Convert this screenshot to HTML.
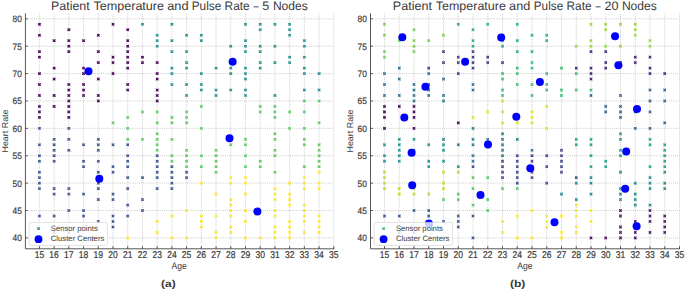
<!DOCTYPE html><html><head><meta charset="utf-8"><style>html,body{margin:0;padding:0;background:#fff;}body{width:685px;height:290px;overflow:hidden;}</style></head><body><svg width="685" height="290" viewBox="0 0 685 290" style="display:block;font-family:'Liberation Sans',sans-serif" text-rendering="geometricPrecision"><rect width="685" height="290" fill="#fff"/><path d="M39.40 13.8V248.5M54.12 13.8V248.5M68.84 13.8V248.5M83.56 13.8V248.5M98.28 13.8V248.5M113.00 13.8V248.5M127.72 13.8V248.5M142.44 13.8V248.5M157.16 13.8V248.5M171.88 13.8V248.5M186.60 13.8V248.5M201.32 13.8V248.5M216.04 13.8V248.5M230.76 13.8V248.5M245.48 13.8V248.5M260.20 13.8V248.5M274.92 13.8V248.5M289.64 13.8V248.5M304.36 13.8V248.5M319.08 13.8V248.5M333.80 13.8V248.5M25.42 237.92H333.80M25.42 210.53H333.80M25.42 183.14H333.80M25.42 155.75H333.80M25.42 128.36H333.80M25.42 100.97H333.80M25.42 73.58H333.80M25.42 46.19H333.80M25.42 18.80H333.80" stroke="#b4b4b4" stroke-width="0.7" stroke-dasharray="1 1.1" fill="none" opacity="0.95"/><g stroke-width="0.9" fill="none" stroke-linecap="square"><rect x="38.10" y="214.71" width="2.60" height="2.60" fill="#3b528b" fill-opacity="0.75" stroke="none"/><path d="M38.55 215.16l1.70 1.70m0 -1.70l-1.70 1.70" stroke="#3b528b"/><rect x="38.10" y="187.32" width="2.60" height="2.60" fill="#3b528b" fill-opacity="0.75" stroke="none"/><path d="M38.55 187.77l1.70 1.70m0 -1.70l-1.70 1.70" stroke="#3b528b"/><rect x="38.10" y="181.84" width="2.60" height="2.60" fill="#3b528b" fill-opacity="0.75" stroke="none"/><path d="M38.55 182.29l1.70 1.70m0 -1.70l-1.70 1.70" stroke="#3b528b"/><rect x="38.10" y="176.36" width="2.60" height="2.60" fill="#3b528b" fill-opacity="0.75" stroke="none"/><path d="M38.55 176.81l1.70 1.70m0 -1.70l-1.70 1.70" stroke="#3b528b"/><rect x="38.10" y="170.88" width="2.60" height="2.60" fill="#3b528b" fill-opacity="0.75" stroke="none"/><path d="M38.55 171.33l1.70 1.70m0 -1.70l-1.70 1.70" stroke="#3b528b"/><rect x="38.10" y="159.93" width="2.60" height="2.60" fill="#3b528b" fill-opacity="0.75" stroke="none"/><path d="M38.55 160.38l1.70 1.70m0 -1.70l-1.70 1.70" stroke="#3b528b"/><rect x="38.10" y="154.45" width="2.60" height="2.60" fill="#3b528b" fill-opacity="0.75" stroke="none"/><path d="M38.55 154.90l1.70 1.70m0 -1.70l-1.70 1.70" stroke="#3b528b"/><rect x="38.10" y="143.49" width="2.60" height="2.60" fill="#3b528b" fill-opacity="0.75" stroke="none"/><path d="M38.55 143.94l1.70 1.70m0 -1.70l-1.70 1.70" stroke="#3b528b"/><rect x="38.10" y="127.06" width="2.60" height="2.60" fill="#3b528b" fill-opacity="0.75" stroke="none"/><path d="M38.55 127.51l1.70 1.70m0 -1.70l-1.70 1.70" stroke="#3b528b"/><rect x="38.10" y="116.10" width="2.60" height="2.60" fill="#440154" fill-opacity="0.75" stroke="none"/><path d="M38.55 116.55l1.70 1.70m0 -1.70l-1.70 1.70" stroke="#440154"/><rect x="38.10" y="110.63" width="2.60" height="2.60" fill="#440154" fill-opacity="0.75" stroke="none"/><path d="M38.55 111.08l1.70 1.70m0 -1.70l-1.70 1.70" stroke="#440154"/><rect x="38.10" y="105.15" width="2.60" height="2.60" fill="#440154" fill-opacity="0.75" stroke="none"/><path d="M38.55 105.60l1.70 1.70m0 -1.70l-1.70 1.70" stroke="#440154"/><rect x="38.10" y="94.19" width="2.60" height="2.60" fill="#440154" fill-opacity="0.75" stroke="none"/><path d="M38.55 94.64l1.70 1.70m0 -1.70l-1.70 1.70" stroke="#440154"/><rect x="38.10" y="83.24" width="2.60" height="2.60" fill="#440154" fill-opacity="0.75" stroke="none"/><path d="M38.55 83.69l1.70 1.70m0 -1.70l-1.70 1.70" stroke="#440154"/><rect x="38.10" y="72.28" width="2.60" height="2.60" fill="#440154" fill-opacity="0.75" stroke="none"/><path d="M38.55 72.73l1.70 1.70m0 -1.70l-1.70 1.70" stroke="#440154"/><rect x="38.10" y="55.85" width="2.60" height="2.60" fill="#440154" fill-opacity="0.75" stroke="none"/><path d="M38.55 56.30l1.70 1.70m0 -1.70l-1.70 1.70" stroke="#440154"/><rect x="38.10" y="50.37" width="2.60" height="2.60" fill="#440154" fill-opacity="0.75" stroke="none"/><path d="M38.55 50.82l1.70 1.70m0 -1.70l-1.70 1.70" stroke="#440154"/><rect x="38.10" y="33.93" width="2.60" height="2.60" fill="#440154" fill-opacity="0.75" stroke="none"/><path d="M38.55 34.38l1.70 1.70m0 -1.70l-1.70 1.70" stroke="#440154"/><rect x="38.10" y="22.98" width="2.60" height="2.60" fill="#440154" fill-opacity="0.75" stroke="none"/><path d="M38.55 23.43l1.70 1.70m0 -1.70l-1.70 1.70" stroke="#440154"/><rect x="52.82" y="214.71" width="2.60" height="2.60" fill="#3b528b" fill-opacity="0.75" stroke="none"/><path d="M53.27 215.16l1.70 1.70m0 -1.70l-1.70 1.70" stroke="#3b528b"/><rect x="52.82" y="192.80" width="2.60" height="2.60" fill="#3b528b" fill-opacity="0.75" stroke="none"/><path d="M53.27 193.25l1.70 1.70m0 -1.70l-1.70 1.70" stroke="#3b528b"/><rect x="52.82" y="187.32" width="2.60" height="2.60" fill="#3b528b" fill-opacity="0.75" stroke="none"/><path d="M53.27 187.77l1.70 1.70m0 -1.70l-1.70 1.70" stroke="#3b528b"/><rect x="52.82" y="159.93" width="2.60" height="2.60" fill="#3b528b" fill-opacity="0.75" stroke="none"/><path d="M53.27 160.38l1.70 1.70m0 -1.70l-1.70 1.70" stroke="#3b528b"/><rect x="52.82" y="154.45" width="2.60" height="2.60" fill="#3b528b" fill-opacity="0.75" stroke="none"/><path d="M53.27 154.90l1.70 1.70m0 -1.70l-1.70 1.70" stroke="#3b528b"/><rect x="52.82" y="148.97" width="2.60" height="2.60" fill="#3b528b" fill-opacity="0.75" stroke="none"/><path d="M53.27 149.42l1.70 1.70m0 -1.70l-1.70 1.70" stroke="#3b528b"/><rect x="52.82" y="143.49" width="2.60" height="2.60" fill="#3b528b" fill-opacity="0.75" stroke="none"/><path d="M53.27 143.94l1.70 1.70m0 -1.70l-1.70 1.70" stroke="#3b528b"/><rect x="52.82" y="138.02" width="2.60" height="2.60" fill="#3b528b" fill-opacity="0.75" stroke="none"/><path d="M53.27 138.47l1.70 1.70m0 -1.70l-1.70 1.70" stroke="#3b528b"/><rect x="52.82" y="105.15" width="2.60" height="2.60" fill="#440154" fill-opacity="0.75" stroke="none"/><path d="M53.27 105.60l1.70 1.70m0 -1.70l-1.70 1.70" stroke="#440154"/><rect x="52.82" y="94.19" width="2.60" height="2.60" fill="#440154" fill-opacity="0.75" stroke="none"/><path d="M53.27 94.64l1.70 1.70m0 -1.70l-1.70 1.70" stroke="#440154"/><rect x="52.82" y="77.76" width="2.60" height="2.60" fill="#440154" fill-opacity="0.75" stroke="none"/><path d="M53.27 78.21l1.70 1.70m0 -1.70l-1.70 1.70" stroke="#440154"/><rect x="52.82" y="66.80" width="2.60" height="2.60" fill="#440154" fill-opacity="0.75" stroke="none"/><path d="M53.27 67.25l1.70 1.70m0 -1.70l-1.70 1.70" stroke="#440154"/><rect x="52.82" y="39.41" width="2.60" height="2.60" fill="#440154" fill-opacity="0.75" stroke="none"/><path d="M53.27 39.86l1.70 1.70m0 -1.70l-1.70 1.70" stroke="#440154"/><rect x="67.54" y="209.23" width="2.60" height="2.60" fill="#3b528b" fill-opacity="0.75" stroke="none"/><path d="M67.99 209.68l1.70 1.70m0 -1.70l-1.70 1.70" stroke="#3b528b"/><rect x="67.54" y="192.80" width="2.60" height="2.60" fill="#3b528b" fill-opacity="0.75" stroke="none"/><path d="M67.99 193.25l1.70 1.70m0 -1.70l-1.70 1.70" stroke="#3b528b"/><rect x="67.54" y="187.32" width="2.60" height="2.60" fill="#3b528b" fill-opacity="0.75" stroke="none"/><path d="M67.99 187.77l1.70 1.70m0 -1.70l-1.70 1.70" stroke="#3b528b"/><rect x="67.54" y="148.97" width="2.60" height="2.60" fill="#3b528b" fill-opacity="0.75" stroke="none"/><path d="M67.99 149.42l1.70 1.70m0 -1.70l-1.70 1.70" stroke="#3b528b"/><rect x="67.54" y="138.02" width="2.60" height="2.60" fill="#3b528b" fill-opacity="0.75" stroke="none"/><path d="M67.99 138.47l1.70 1.70m0 -1.70l-1.70 1.70" stroke="#3b528b"/><rect x="67.54" y="127.06" width="2.60" height="2.60" fill="#3b528b" fill-opacity="0.75" stroke="none"/><path d="M67.99 127.51l1.70 1.70m0 -1.70l-1.70 1.70" stroke="#3b528b"/><rect x="67.54" y="116.10" width="2.60" height="2.60" fill="#440154" fill-opacity="0.75" stroke="none"/><path d="M67.99 116.55l1.70 1.70m0 -1.70l-1.70 1.70" stroke="#440154"/><rect x="67.54" y="110.63" width="2.60" height="2.60" fill="#440154" fill-opacity="0.75" stroke="none"/><path d="M67.99 111.08l1.70 1.70m0 -1.70l-1.70 1.70" stroke="#440154"/><rect x="67.54" y="105.15" width="2.60" height="2.60" fill="#440154" fill-opacity="0.75" stroke="none"/><path d="M67.99 105.60l1.70 1.70m0 -1.70l-1.70 1.70" stroke="#440154"/><rect x="67.54" y="99.67" width="2.60" height="2.60" fill="#440154" fill-opacity="0.75" stroke="none"/><path d="M67.99 100.12l1.70 1.70m0 -1.70l-1.70 1.70" stroke="#440154"/><rect x="67.54" y="94.19" width="2.60" height="2.60" fill="#440154" fill-opacity="0.75" stroke="none"/><path d="M67.99 94.64l1.70 1.70m0 -1.70l-1.70 1.70" stroke="#440154"/><rect x="67.54" y="88.71" width="2.60" height="2.60" fill="#440154" fill-opacity="0.75" stroke="none"/><path d="M67.99 89.16l1.70 1.70m0 -1.70l-1.70 1.70" stroke="#440154"/><rect x="67.54" y="83.24" width="2.60" height="2.60" fill="#440154" fill-opacity="0.75" stroke="none"/><path d="M67.99 83.69l1.70 1.70m0 -1.70l-1.70 1.70" stroke="#440154"/><rect x="67.54" y="50.37" width="2.60" height="2.60" fill="#440154" fill-opacity="0.75" stroke="none"/><path d="M67.99 50.82l1.70 1.70m0 -1.70l-1.70 1.70" stroke="#440154"/><rect x="67.54" y="44.89" width="2.60" height="2.60" fill="#440154" fill-opacity="0.75" stroke="none"/><path d="M67.99 45.34l1.70 1.70m0 -1.70l-1.70 1.70" stroke="#440154"/><rect x="67.54" y="39.41" width="2.60" height="2.60" fill="#440154" fill-opacity="0.75" stroke="none"/><path d="M67.99 39.86l1.70 1.70m0 -1.70l-1.70 1.70" stroke="#440154"/><rect x="67.54" y="28.46" width="2.60" height="2.60" fill="#440154" fill-opacity="0.75" stroke="none"/><path d="M67.99 28.91l1.70 1.70m0 -1.70l-1.70 1.70" stroke="#440154"/><rect x="82.26" y="214.71" width="2.60" height="2.60" fill="#3b528b" fill-opacity="0.75" stroke="none"/><path d="M82.71 215.16l1.70 1.70m0 -1.70l-1.70 1.70" stroke="#3b528b"/><rect x="82.26" y="209.23" width="2.60" height="2.60" fill="#3b528b" fill-opacity="0.75" stroke="none"/><path d="M82.71 209.68l1.70 1.70m0 -1.70l-1.70 1.70" stroke="#3b528b"/><rect x="82.26" y="192.80" width="2.60" height="2.60" fill="#3b528b" fill-opacity="0.75" stroke="none"/><path d="M82.71 193.25l1.70 1.70m0 -1.70l-1.70 1.70" stroke="#3b528b"/><rect x="82.26" y="165.41" width="2.60" height="2.60" fill="#3b528b" fill-opacity="0.75" stroke="none"/><path d="M82.71 165.86l1.70 1.70m0 -1.70l-1.70 1.70" stroke="#3b528b"/><rect x="82.26" y="159.93" width="2.60" height="2.60" fill="#3b528b" fill-opacity="0.75" stroke="none"/><path d="M82.71 160.38l1.70 1.70m0 -1.70l-1.70 1.70" stroke="#3b528b"/><rect x="82.26" y="143.49" width="2.60" height="2.60" fill="#3b528b" fill-opacity="0.75" stroke="none"/><path d="M82.71 143.94l1.70 1.70m0 -1.70l-1.70 1.70" stroke="#3b528b"/><rect x="82.26" y="94.19" width="2.60" height="2.60" fill="#440154" fill-opacity="0.75" stroke="none"/><path d="M82.71 94.64l1.70 1.70m0 -1.70l-1.70 1.70" stroke="#440154"/><rect x="82.26" y="88.71" width="2.60" height="2.60" fill="#440154" fill-opacity="0.75" stroke="none"/><path d="M82.71 89.16l1.70 1.70m0 -1.70l-1.70 1.70" stroke="#440154"/><rect x="82.26" y="83.24" width="2.60" height="2.60" fill="#440154" fill-opacity="0.75" stroke="none"/><path d="M82.71 83.69l1.70 1.70m0 -1.70l-1.70 1.70" stroke="#440154"/><rect x="82.26" y="72.28" width="2.60" height="2.60" fill="#440154" fill-opacity="0.75" stroke="none"/><path d="M82.71 72.73l1.70 1.70m0 -1.70l-1.70 1.70" stroke="#440154"/><rect x="82.26" y="66.80" width="2.60" height="2.60" fill="#440154" fill-opacity="0.75" stroke="none"/><path d="M82.71 67.25l1.70 1.70m0 -1.70l-1.70 1.70" stroke="#440154"/><rect x="82.26" y="39.41" width="2.60" height="2.60" fill="#440154" fill-opacity="0.75" stroke="none"/><path d="M82.71 39.86l1.70 1.70m0 -1.70l-1.70 1.70" stroke="#440154"/><rect x="96.98" y="220.19" width="2.60" height="2.60" fill="#3b528b" fill-opacity="0.75" stroke="none"/><path d="M97.43 220.64l1.70 1.70m0 -1.70l-1.70 1.70" stroke="#3b528b"/><rect x="96.98" y="198.27" width="2.60" height="2.60" fill="#3b528b" fill-opacity="0.75" stroke="none"/><path d="M97.43 198.72l1.70 1.70m0 -1.70l-1.70 1.70" stroke="#3b528b"/><rect x="96.98" y="187.32" width="2.60" height="2.60" fill="#3b528b" fill-opacity="0.75" stroke="none"/><path d="M97.43 187.77l1.70 1.70m0 -1.70l-1.70 1.70" stroke="#3b528b"/><rect x="96.98" y="170.88" width="2.60" height="2.60" fill="#3b528b" fill-opacity="0.75" stroke="none"/><path d="M97.43 171.33l1.70 1.70m0 -1.70l-1.70 1.70" stroke="#3b528b"/><rect x="96.98" y="159.93" width="2.60" height="2.60" fill="#3b528b" fill-opacity="0.75" stroke="none"/><path d="M97.43 160.38l1.70 1.70m0 -1.70l-1.70 1.70" stroke="#3b528b"/><rect x="96.98" y="148.97" width="2.60" height="2.60" fill="#3b528b" fill-opacity="0.75" stroke="none"/><path d="M97.43 149.42l1.70 1.70m0 -1.70l-1.70 1.70" stroke="#3b528b"/><rect x="96.98" y="143.49" width="2.60" height="2.60" fill="#3b528b" fill-opacity="0.75" stroke="none"/><path d="M97.43 143.94l1.70 1.70m0 -1.70l-1.70 1.70" stroke="#3b528b"/><rect x="96.98" y="138.02" width="2.60" height="2.60" fill="#3b528b" fill-opacity="0.75" stroke="none"/><path d="M97.43 138.47l1.70 1.70m0 -1.70l-1.70 1.70" stroke="#3b528b"/><rect x="96.98" y="99.67" width="2.60" height="2.60" fill="#440154" fill-opacity="0.75" stroke="none"/><path d="M97.43 100.12l1.70 1.70m0 -1.70l-1.70 1.70" stroke="#440154"/><rect x="96.98" y="94.19" width="2.60" height="2.60" fill="#440154" fill-opacity="0.75" stroke="none"/><path d="M97.43 94.64l1.70 1.70m0 -1.70l-1.70 1.70" stroke="#440154"/><rect x="96.98" y="77.76" width="2.60" height="2.60" fill="#440154" fill-opacity="0.75" stroke="none"/><path d="M97.43 78.21l1.70 1.70m0 -1.70l-1.70 1.70" stroke="#440154"/><rect x="96.98" y="61.32" width="2.60" height="2.60" fill="#440154" fill-opacity="0.75" stroke="none"/><path d="M97.43 61.77l1.70 1.70m0 -1.70l-1.70 1.70" stroke="#440154"/><rect x="96.98" y="50.37" width="2.60" height="2.60" fill="#440154" fill-opacity="0.75" stroke="none"/><path d="M97.43 50.82l1.70 1.70m0 -1.70l-1.70 1.70" stroke="#440154"/><rect x="96.98" y="33.93" width="2.60" height="2.60" fill="#440154" fill-opacity="0.75" stroke="none"/><path d="M97.43 34.38l1.70 1.70m0 -1.70l-1.70 1.70" stroke="#440154"/><rect x="111.70" y="225.66" width="2.60" height="2.60" fill="#3b528b" fill-opacity="0.75" stroke="none"/><path d="M112.15 226.11l1.70 1.70m0 -1.70l-1.70 1.70" stroke="#3b528b"/><rect x="111.70" y="220.19" width="2.60" height="2.60" fill="#3b528b" fill-opacity="0.75" stroke="none"/><path d="M112.15 220.64l1.70 1.70m0 -1.70l-1.70 1.70" stroke="#3b528b"/><rect x="111.70" y="214.71" width="2.60" height="2.60" fill="#3b528b" fill-opacity="0.75" stroke="none"/><path d="M112.15 215.16l1.70 1.70m0 -1.70l-1.70 1.70" stroke="#3b528b"/><rect x="111.70" y="198.27" width="2.60" height="2.60" fill="#3b528b" fill-opacity="0.75" stroke="none"/><path d="M112.15 198.72l1.70 1.70m0 -1.70l-1.70 1.70" stroke="#3b528b"/><rect x="111.70" y="192.80" width="2.60" height="2.60" fill="#3b528b" fill-opacity="0.75" stroke="none"/><path d="M112.15 193.25l1.70 1.70m0 -1.70l-1.70 1.70" stroke="#3b528b"/><rect x="111.70" y="170.88" width="2.60" height="2.60" fill="#3b528b" fill-opacity="0.75" stroke="none"/><path d="M112.15 171.33l1.70 1.70m0 -1.70l-1.70 1.70" stroke="#3b528b"/><rect x="111.70" y="165.41" width="2.60" height="2.60" fill="#3b528b" fill-opacity="0.75" stroke="none"/><path d="M112.15 165.86l1.70 1.70m0 -1.70l-1.70 1.70" stroke="#3b528b"/><rect x="111.70" y="143.49" width="2.60" height="2.60" fill="#3b528b" fill-opacity="0.75" stroke="none"/><path d="M112.15 143.94l1.70 1.70m0 -1.70l-1.70 1.70" stroke="#3b528b"/><rect x="111.70" y="121.58" width="2.60" height="2.60" fill="#5ec962" fill-opacity="0.75" stroke="none"/><path d="M112.15 122.03l1.70 1.70m0 -1.70l-1.70 1.70" stroke="#5ec962"/><rect x="111.70" y="72.28" width="2.60" height="2.60" fill="#440154" fill-opacity="0.75" stroke="none"/><path d="M112.15 72.73l1.70 1.70m0 -1.70l-1.70 1.70" stroke="#440154"/><rect x="111.70" y="61.32" width="2.60" height="2.60" fill="#440154" fill-opacity="0.75" stroke="none"/><path d="M112.15 61.77l1.70 1.70m0 -1.70l-1.70 1.70" stroke="#440154"/><rect x="111.70" y="55.85" width="2.60" height="2.60" fill="#440154" fill-opacity="0.75" stroke="none"/><path d="M112.15 56.30l1.70 1.70m0 -1.70l-1.70 1.70" stroke="#440154"/><rect x="111.70" y="22.98" width="2.60" height="2.60" fill="#440154" fill-opacity="0.75" stroke="none"/><path d="M112.15 23.43l1.70 1.70m0 -1.70l-1.70 1.70" stroke="#440154"/><rect x="126.42" y="236.62" width="2.60" height="2.60" fill="#fde725" fill-opacity="0.75" stroke="none"/><path d="M126.87 237.07l1.70 1.70m0 -1.70l-1.70 1.70" stroke="#fde725"/><rect x="126.42" y="214.71" width="2.60" height="2.60" fill="#3b528b" fill-opacity="0.75" stroke="none"/><path d="M126.87 215.16l1.70 1.70m0 -1.70l-1.70 1.70" stroke="#3b528b"/><rect x="126.42" y="203.75" width="2.60" height="2.60" fill="#3b528b" fill-opacity="0.75" stroke="none"/><path d="M126.87 204.20l1.70 1.70m0 -1.70l-1.70 1.70" stroke="#3b528b"/><rect x="126.42" y="187.32" width="2.60" height="2.60" fill="#3b528b" fill-opacity="0.75" stroke="none"/><path d="M126.87 187.77l1.70 1.70m0 -1.70l-1.70 1.70" stroke="#3b528b"/><rect x="126.42" y="176.36" width="2.60" height="2.60" fill="#3b528b" fill-opacity="0.75" stroke="none"/><path d="M126.87 176.81l1.70 1.70m0 -1.70l-1.70 1.70" stroke="#3b528b"/><rect x="126.42" y="165.41" width="2.60" height="2.60" fill="#3b528b" fill-opacity="0.75" stroke="none"/><path d="M126.87 165.86l1.70 1.70m0 -1.70l-1.70 1.70" stroke="#3b528b"/><rect x="126.42" y="159.93" width="2.60" height="2.60" fill="#3b528b" fill-opacity="0.75" stroke="none"/><path d="M126.87 160.38l1.70 1.70m0 -1.70l-1.70 1.70" stroke="#3b528b"/><rect x="126.42" y="154.45" width="2.60" height="2.60" fill="#3b528b" fill-opacity="0.75" stroke="none"/><path d="M126.87 154.90l1.70 1.70m0 -1.70l-1.70 1.70" stroke="#3b528b"/><rect x="126.42" y="143.49" width="2.60" height="2.60" fill="#3b528b" fill-opacity="0.75" stroke="none"/><path d="M126.87 143.94l1.70 1.70m0 -1.70l-1.70 1.70" stroke="#3b528b"/><rect x="126.42" y="138.02" width="2.60" height="2.60" fill="#5ec962" fill-opacity="0.75" stroke="none"/><path d="M126.87 138.47l1.70 1.70m0 -1.70l-1.70 1.70" stroke="#5ec962"/><rect x="126.42" y="127.06" width="2.60" height="2.60" fill="#5ec962" fill-opacity="0.75" stroke="none"/><path d="M126.87 127.51l1.70 1.70m0 -1.70l-1.70 1.70" stroke="#5ec962"/><rect x="126.42" y="116.10" width="2.60" height="2.60" fill="#5ec962" fill-opacity="0.75" stroke="none"/><path d="M126.87 116.55l1.70 1.70m0 -1.70l-1.70 1.70" stroke="#5ec962"/><rect x="126.42" y="88.71" width="2.60" height="2.60" fill="#440154" fill-opacity="0.75" stroke="none"/><path d="M126.87 89.16l1.70 1.70m0 -1.70l-1.70 1.70" stroke="#440154"/><rect x="126.42" y="83.24" width="2.60" height="2.60" fill="#440154" fill-opacity="0.75" stroke="none"/><path d="M126.87 83.69l1.70 1.70m0 -1.70l-1.70 1.70" stroke="#440154"/><rect x="126.42" y="66.80" width="2.60" height="2.60" fill="#440154" fill-opacity="0.75" stroke="none"/><path d="M126.87 67.25l1.70 1.70m0 -1.70l-1.70 1.70" stroke="#440154"/><rect x="126.42" y="61.32" width="2.60" height="2.60" fill="#440154" fill-opacity="0.75" stroke="none"/><path d="M126.87 61.77l1.70 1.70m0 -1.70l-1.70 1.70" stroke="#440154"/><rect x="126.42" y="55.85" width="2.60" height="2.60" fill="#440154" fill-opacity="0.75" stroke="none"/><path d="M126.87 56.30l1.70 1.70m0 -1.70l-1.70 1.70" stroke="#440154"/><rect x="126.42" y="50.37" width="2.60" height="2.60" fill="#440154" fill-opacity="0.75" stroke="none"/><path d="M126.87 50.82l1.70 1.70m0 -1.70l-1.70 1.70" stroke="#440154"/><rect x="126.42" y="44.89" width="2.60" height="2.60" fill="#440154" fill-opacity="0.75" stroke="none"/><path d="M126.87 45.34l1.70 1.70m0 -1.70l-1.70 1.70" stroke="#440154"/><rect x="126.42" y="39.41" width="2.60" height="2.60" fill="#440154" fill-opacity="0.75" stroke="none"/><path d="M126.87 39.86l1.70 1.70m0 -1.70l-1.70 1.70" stroke="#440154"/><rect x="126.42" y="28.46" width="2.60" height="2.60" fill="#440154" fill-opacity="0.75" stroke="none"/><path d="M126.87 28.91l1.70 1.70m0 -1.70l-1.70 1.70" stroke="#440154"/><rect x="141.14" y="209.23" width="2.60" height="2.60" fill="#3b528b" fill-opacity="0.75" stroke="none"/><path d="M141.59 209.68l1.70 1.70m0 -1.70l-1.70 1.70" stroke="#3b528b"/><rect x="141.14" y="198.27" width="2.60" height="2.60" fill="#3b528b" fill-opacity="0.75" stroke="none"/><path d="M141.59 198.72l1.70 1.70m0 -1.70l-1.70 1.70" stroke="#3b528b"/><rect x="141.14" y="176.36" width="2.60" height="2.60" fill="#3b528b" fill-opacity="0.75" stroke="none"/><path d="M141.59 176.81l1.70 1.70m0 -1.70l-1.70 1.70" stroke="#3b528b"/><rect x="141.14" y="138.02" width="2.60" height="2.60" fill="#5ec962" fill-opacity="0.75" stroke="none"/><path d="M141.59 138.47l1.70 1.70m0 -1.70l-1.70 1.70" stroke="#5ec962"/><rect x="141.14" y="110.63" width="2.60" height="2.60" fill="#5ec962" fill-opacity="0.75" stroke="none"/><path d="M141.59 111.08l1.70 1.70m0 -1.70l-1.70 1.70" stroke="#5ec962"/><rect x="141.14" y="61.32" width="2.60" height="2.60" fill="#440154" fill-opacity="0.75" stroke="none"/><path d="M141.59 61.77l1.70 1.70m0 -1.70l-1.70 1.70" stroke="#440154"/><rect x="141.14" y="55.85" width="2.60" height="2.60" fill="#440154" fill-opacity="0.75" stroke="none"/><path d="M141.59 56.30l1.70 1.70m0 -1.70l-1.70 1.70" stroke="#440154"/><rect x="141.14" y="22.98" width="2.60" height="2.60" fill="#21918c" fill-opacity="0.75" stroke="none"/><path d="M141.59 23.43l1.70 1.70m0 -1.70l-1.70 1.70" stroke="#21918c"/><rect x="155.86" y="231.14" width="2.60" height="2.60" fill="#fde725" fill-opacity="0.75" stroke="none"/><path d="M156.31 231.59l1.70 1.70m0 -1.70l-1.70 1.70" stroke="#fde725"/><rect x="155.86" y="220.19" width="2.60" height="2.60" fill="#fde725" fill-opacity="0.75" stroke="none"/><path d="M156.31 220.64l1.70 1.70m0 -1.70l-1.70 1.70" stroke="#fde725"/><rect x="155.86" y="187.32" width="2.60" height="2.60" fill="#3b528b" fill-opacity="0.75" stroke="none"/><path d="M156.31 187.77l1.70 1.70m0 -1.70l-1.70 1.70" stroke="#3b528b"/><rect x="155.86" y="176.36" width="2.60" height="2.60" fill="#3b528b" fill-opacity="0.75" stroke="none"/><path d="M156.31 176.81l1.70 1.70m0 -1.70l-1.70 1.70" stroke="#3b528b"/><rect x="155.86" y="170.88" width="2.60" height="2.60" fill="#3b528b" fill-opacity="0.75" stroke="none"/><path d="M156.31 171.33l1.70 1.70m0 -1.70l-1.70 1.70" stroke="#3b528b"/><rect x="155.86" y="165.41" width="2.60" height="2.60" fill="#3b528b" fill-opacity="0.75" stroke="none"/><path d="M156.31 165.86l1.70 1.70m0 -1.70l-1.70 1.70" stroke="#3b528b"/><rect x="155.86" y="159.93" width="2.60" height="2.60" fill="#3b528b" fill-opacity="0.75" stroke="none"/><path d="M156.31 160.38l1.70 1.70m0 -1.70l-1.70 1.70" stroke="#3b528b"/><rect x="155.86" y="154.45" width="2.60" height="2.60" fill="#3b528b" fill-opacity="0.75" stroke="none"/><path d="M156.31 154.90l1.70 1.70m0 -1.70l-1.70 1.70" stroke="#3b528b"/><rect x="155.86" y="148.97" width="2.60" height="2.60" fill="#5ec962" fill-opacity="0.75" stroke="none"/><path d="M156.31 149.42l1.70 1.70m0 -1.70l-1.70 1.70" stroke="#5ec962"/><rect x="155.86" y="143.49" width="2.60" height="2.60" fill="#5ec962" fill-opacity="0.75" stroke="none"/><path d="M156.31 143.94l1.70 1.70m0 -1.70l-1.70 1.70" stroke="#5ec962"/><rect x="155.86" y="138.02" width="2.60" height="2.60" fill="#5ec962" fill-opacity="0.75" stroke="none"/><path d="M156.31 138.47l1.70 1.70m0 -1.70l-1.70 1.70" stroke="#5ec962"/><rect x="155.86" y="132.54" width="2.60" height="2.60" fill="#5ec962" fill-opacity="0.75" stroke="none"/><path d="M156.31 132.99l1.70 1.70m0 -1.70l-1.70 1.70" stroke="#5ec962"/><rect x="155.86" y="121.58" width="2.60" height="2.60" fill="#5ec962" fill-opacity="0.75" stroke="none"/><path d="M156.31 122.03l1.70 1.70m0 -1.70l-1.70 1.70" stroke="#5ec962"/><rect x="155.86" y="110.63" width="2.60" height="2.60" fill="#5ec962" fill-opacity="0.75" stroke="none"/><path d="M156.31 111.08l1.70 1.70m0 -1.70l-1.70 1.70" stroke="#5ec962"/><rect x="155.86" y="99.67" width="2.60" height="2.60" fill="#440154" fill-opacity="0.75" stroke="none"/><path d="M156.31 100.12l1.70 1.70m0 -1.70l-1.70 1.70" stroke="#440154"/><rect x="155.86" y="94.19" width="2.60" height="2.60" fill="#440154" fill-opacity="0.75" stroke="none"/><path d="M156.31 94.64l1.70 1.70m0 -1.70l-1.70 1.70" stroke="#440154"/><rect x="155.86" y="88.71" width="2.60" height="2.60" fill="#440154" fill-opacity="0.75" stroke="none"/><path d="M156.31 89.16l1.70 1.70m0 -1.70l-1.70 1.70" stroke="#440154"/><rect x="155.86" y="77.76" width="2.60" height="2.60" fill="#440154" fill-opacity="0.75" stroke="none"/><path d="M156.31 78.21l1.70 1.70m0 -1.70l-1.70 1.70" stroke="#440154"/><rect x="155.86" y="72.28" width="2.60" height="2.60" fill="#440154" fill-opacity="0.75" stroke="none"/><path d="M156.31 72.73l1.70 1.70m0 -1.70l-1.70 1.70" stroke="#440154"/><rect x="155.86" y="61.32" width="2.60" height="2.60" fill="#440154" fill-opacity="0.75" stroke="none"/><path d="M156.31 61.77l1.70 1.70m0 -1.70l-1.70 1.70" stroke="#440154"/><rect x="155.86" y="44.89" width="2.60" height="2.60" fill="#21918c" fill-opacity="0.75" stroke="none"/><path d="M156.31 45.34l1.70 1.70m0 -1.70l-1.70 1.70" stroke="#21918c"/><rect x="155.86" y="39.41" width="2.60" height="2.60" fill="#21918c" fill-opacity="0.75" stroke="none"/><path d="M156.31 39.86l1.70 1.70m0 -1.70l-1.70 1.70" stroke="#21918c"/><rect x="155.86" y="33.93" width="2.60" height="2.60" fill="#21918c" fill-opacity="0.75" stroke="none"/><path d="M156.31 34.38l1.70 1.70m0 -1.70l-1.70 1.70" stroke="#21918c"/><rect x="170.58" y="236.62" width="2.60" height="2.60" fill="#fde725" fill-opacity="0.75" stroke="none"/><path d="M171.03 237.07l1.70 1.70m0 -1.70l-1.70 1.70" stroke="#fde725"/><rect x="170.58" y="214.71" width="2.60" height="2.60" fill="#fde725" fill-opacity="0.75" stroke="none"/><path d="M171.03 215.16l1.70 1.70m0 -1.70l-1.70 1.70" stroke="#fde725"/><rect x="170.58" y="187.32" width="2.60" height="2.60" fill="#3b528b" fill-opacity="0.75" stroke="none"/><path d="M171.03 187.77l1.70 1.70m0 -1.70l-1.70 1.70" stroke="#3b528b"/><rect x="170.58" y="181.84" width="2.60" height="2.60" fill="#3b528b" fill-opacity="0.75" stroke="none"/><path d="M171.03 182.29l1.70 1.70m0 -1.70l-1.70 1.70" stroke="#3b528b"/><rect x="170.58" y="176.36" width="2.60" height="2.60" fill="#3b528b" fill-opacity="0.75" stroke="none"/><path d="M171.03 176.81l1.70 1.70m0 -1.70l-1.70 1.70" stroke="#3b528b"/><rect x="170.58" y="170.88" width="2.60" height="2.60" fill="#3b528b" fill-opacity="0.75" stroke="none"/><path d="M171.03 171.33l1.70 1.70m0 -1.70l-1.70 1.70" stroke="#3b528b"/><rect x="170.58" y="165.41" width="2.60" height="2.60" fill="#3b528b" fill-opacity="0.75" stroke="none"/><path d="M171.03 165.86l1.70 1.70m0 -1.70l-1.70 1.70" stroke="#3b528b"/><rect x="170.58" y="159.93" width="2.60" height="2.60" fill="#5ec962" fill-opacity="0.75" stroke="none"/><path d="M171.03 160.38l1.70 1.70m0 -1.70l-1.70 1.70" stroke="#5ec962"/><rect x="170.58" y="154.45" width="2.60" height="2.60" fill="#5ec962" fill-opacity="0.75" stroke="none"/><path d="M171.03 154.90l1.70 1.70m0 -1.70l-1.70 1.70" stroke="#5ec962"/><rect x="170.58" y="138.02" width="2.60" height="2.60" fill="#5ec962" fill-opacity="0.75" stroke="none"/><path d="M171.03 138.47l1.70 1.70m0 -1.70l-1.70 1.70" stroke="#5ec962"/><rect x="170.58" y="121.58" width="2.60" height="2.60" fill="#5ec962" fill-opacity="0.75" stroke="none"/><path d="M171.03 122.03l1.70 1.70m0 -1.70l-1.70 1.70" stroke="#5ec962"/><rect x="170.58" y="116.10" width="2.60" height="2.60" fill="#5ec962" fill-opacity="0.75" stroke="none"/><path d="M171.03 116.55l1.70 1.70m0 -1.70l-1.70 1.70" stroke="#5ec962"/><rect x="170.58" y="83.24" width="2.60" height="2.60" fill="#21918c" fill-opacity="0.75" stroke="none"/><path d="M171.03 83.69l1.70 1.70m0 -1.70l-1.70 1.70" stroke="#21918c"/><rect x="170.58" y="72.28" width="2.60" height="2.60" fill="#21918c" fill-opacity="0.75" stroke="none"/><path d="M171.03 72.73l1.70 1.70m0 -1.70l-1.70 1.70" stroke="#21918c"/><rect x="170.58" y="66.80" width="2.60" height="2.60" fill="#21918c" fill-opacity="0.75" stroke="none"/><path d="M171.03 67.25l1.70 1.70m0 -1.70l-1.70 1.70" stroke="#21918c"/><rect x="170.58" y="50.37" width="2.60" height="2.60" fill="#21918c" fill-opacity="0.75" stroke="none"/><path d="M171.03 50.82l1.70 1.70m0 -1.70l-1.70 1.70" stroke="#21918c"/><rect x="170.58" y="39.41" width="2.60" height="2.60" fill="#21918c" fill-opacity="0.75" stroke="none"/><path d="M171.03 39.86l1.70 1.70m0 -1.70l-1.70 1.70" stroke="#21918c"/><rect x="170.58" y="22.98" width="2.60" height="2.60" fill="#21918c" fill-opacity="0.75" stroke="none"/><path d="M171.03 23.43l1.70 1.70m0 -1.70l-1.70 1.70" stroke="#21918c"/><rect x="185.30" y="236.62" width="2.60" height="2.60" fill="#fde725" fill-opacity="0.75" stroke="none"/><path d="M185.75 237.07l1.70 1.70m0 -1.70l-1.70 1.70" stroke="#fde725"/><rect x="185.30" y="209.23" width="2.60" height="2.60" fill="#fde725" fill-opacity="0.75" stroke="none"/><path d="M185.75 209.68l1.70 1.70m0 -1.70l-1.70 1.70" stroke="#fde725"/><rect x="185.30" y="176.36" width="2.60" height="2.60" fill="#3b528b" fill-opacity="0.75" stroke="none"/><path d="M185.75 176.81l1.70 1.70m0 -1.70l-1.70 1.70" stroke="#3b528b"/><rect x="185.30" y="170.88" width="2.60" height="2.60" fill="#3b528b" fill-opacity="0.75" stroke="none"/><path d="M185.75 171.33l1.70 1.70m0 -1.70l-1.70 1.70" stroke="#3b528b"/><rect x="185.30" y="165.41" width="2.60" height="2.60" fill="#5ec962" fill-opacity="0.75" stroke="none"/><path d="M185.75 165.86l1.70 1.70m0 -1.70l-1.70 1.70" stroke="#5ec962"/><rect x="185.30" y="159.93" width="2.60" height="2.60" fill="#5ec962" fill-opacity="0.75" stroke="none"/><path d="M185.75 160.38l1.70 1.70m0 -1.70l-1.70 1.70" stroke="#5ec962"/><rect x="185.30" y="154.45" width="2.60" height="2.60" fill="#5ec962" fill-opacity="0.75" stroke="none"/><path d="M185.75 154.90l1.70 1.70m0 -1.70l-1.70 1.70" stroke="#5ec962"/><rect x="185.30" y="148.97" width="2.60" height="2.60" fill="#5ec962" fill-opacity="0.75" stroke="none"/><path d="M185.75 149.42l1.70 1.70m0 -1.70l-1.70 1.70" stroke="#5ec962"/><rect x="185.30" y="121.58" width="2.60" height="2.60" fill="#5ec962" fill-opacity="0.75" stroke="none"/><path d="M185.75 122.03l1.70 1.70m0 -1.70l-1.70 1.70" stroke="#5ec962"/><rect x="185.30" y="116.10" width="2.60" height="2.60" fill="#5ec962" fill-opacity="0.75" stroke="none"/><path d="M185.75 116.55l1.70 1.70m0 -1.70l-1.70 1.70" stroke="#5ec962"/><rect x="185.30" y="110.63" width="2.60" height="2.60" fill="#5ec962" fill-opacity="0.75" stroke="none"/><path d="M185.75 111.08l1.70 1.70m0 -1.70l-1.70 1.70" stroke="#5ec962"/><rect x="185.30" y="94.19" width="2.60" height="2.60" fill="#21918c" fill-opacity="0.75" stroke="none"/><path d="M185.75 94.64l1.70 1.70m0 -1.70l-1.70 1.70" stroke="#21918c"/><rect x="185.30" y="83.24" width="2.60" height="2.60" fill="#21918c" fill-opacity="0.75" stroke="none"/><path d="M185.75 83.69l1.70 1.70m0 -1.70l-1.70 1.70" stroke="#21918c"/><rect x="185.30" y="66.80" width="2.60" height="2.60" fill="#21918c" fill-opacity="0.75" stroke="none"/><path d="M185.75 67.25l1.70 1.70m0 -1.70l-1.70 1.70" stroke="#21918c"/><rect x="185.30" y="61.32" width="2.60" height="2.60" fill="#21918c" fill-opacity="0.75" stroke="none"/><path d="M185.75 61.77l1.70 1.70m0 -1.70l-1.70 1.70" stroke="#21918c"/><rect x="185.30" y="50.37" width="2.60" height="2.60" fill="#21918c" fill-opacity="0.75" stroke="none"/><path d="M185.75 50.82l1.70 1.70m0 -1.70l-1.70 1.70" stroke="#21918c"/><rect x="185.30" y="33.93" width="2.60" height="2.60" fill="#21918c" fill-opacity="0.75" stroke="none"/><path d="M185.75 34.38l1.70 1.70m0 -1.70l-1.70 1.70" stroke="#21918c"/><rect x="200.02" y="225.66" width="2.60" height="2.60" fill="#fde725" fill-opacity="0.75" stroke="none"/><path d="M200.47 226.11l1.70 1.70m0 -1.70l-1.70 1.70" stroke="#fde725"/><rect x="200.02" y="220.19" width="2.60" height="2.60" fill="#fde725" fill-opacity="0.75" stroke="none"/><path d="M200.47 220.64l1.70 1.70m0 -1.70l-1.70 1.70" stroke="#fde725"/><rect x="200.02" y="214.71" width="2.60" height="2.60" fill="#fde725" fill-opacity="0.75" stroke="none"/><path d="M200.47 215.16l1.70 1.70m0 -1.70l-1.70 1.70" stroke="#fde725"/><rect x="200.02" y="181.84" width="2.60" height="2.60" fill="#fde725" fill-opacity="0.75" stroke="none"/><path d="M200.47 182.29l1.70 1.70m0 -1.70l-1.70 1.70" stroke="#fde725"/><rect x="200.02" y="165.41" width="2.60" height="2.60" fill="#5ec962" fill-opacity="0.75" stroke="none"/><path d="M200.47 165.86l1.70 1.70m0 -1.70l-1.70 1.70" stroke="#5ec962"/><rect x="200.02" y="154.45" width="2.60" height="2.60" fill="#5ec962" fill-opacity="0.75" stroke="none"/><path d="M200.47 154.90l1.70 1.70m0 -1.70l-1.70 1.70" stroke="#5ec962"/><rect x="200.02" y="127.06" width="2.60" height="2.60" fill="#5ec962" fill-opacity="0.75" stroke="none"/><path d="M200.47 127.51l1.70 1.70m0 -1.70l-1.70 1.70" stroke="#5ec962"/><rect x="200.02" y="105.15" width="2.60" height="2.60" fill="#5ec962" fill-opacity="0.75" stroke="none"/><path d="M200.47 105.60l1.70 1.70m0 -1.70l-1.70 1.70" stroke="#5ec962"/><rect x="200.02" y="88.71" width="2.60" height="2.60" fill="#21918c" fill-opacity="0.75" stroke="none"/><path d="M200.47 89.16l1.70 1.70m0 -1.70l-1.70 1.70" stroke="#21918c"/><rect x="200.02" y="83.24" width="2.60" height="2.60" fill="#21918c" fill-opacity="0.75" stroke="none"/><path d="M200.47 83.69l1.70 1.70m0 -1.70l-1.70 1.70" stroke="#21918c"/><rect x="200.02" y="72.28" width="2.60" height="2.60" fill="#21918c" fill-opacity="0.75" stroke="none"/><path d="M200.47 72.73l1.70 1.70m0 -1.70l-1.70 1.70" stroke="#21918c"/><rect x="200.02" y="39.41" width="2.60" height="2.60" fill="#21918c" fill-opacity="0.75" stroke="none"/><path d="M200.47 39.86l1.70 1.70m0 -1.70l-1.70 1.70" stroke="#21918c"/><rect x="200.02" y="33.93" width="2.60" height="2.60" fill="#21918c" fill-opacity="0.75" stroke="none"/><path d="M200.47 34.38l1.70 1.70m0 -1.70l-1.70 1.70" stroke="#21918c"/><rect x="214.74" y="236.62" width="2.60" height="2.60" fill="#fde725" fill-opacity="0.75" stroke="none"/><path d="M215.19 237.07l1.70 1.70m0 -1.70l-1.70 1.70" stroke="#fde725"/><rect x="214.74" y="231.14" width="2.60" height="2.60" fill="#fde725" fill-opacity="0.75" stroke="none"/><path d="M215.19 231.59l1.70 1.70m0 -1.70l-1.70 1.70" stroke="#fde725"/><rect x="214.74" y="214.71" width="2.60" height="2.60" fill="#fde725" fill-opacity="0.75" stroke="none"/><path d="M215.19 215.16l1.70 1.70m0 -1.70l-1.70 1.70" stroke="#fde725"/><rect x="214.74" y="192.80" width="2.60" height="2.60" fill="#fde725" fill-opacity="0.75" stroke="none"/><path d="M215.19 193.25l1.70 1.70m0 -1.70l-1.70 1.70" stroke="#fde725"/><rect x="214.74" y="170.88" width="2.60" height="2.60" fill="#5ec962" fill-opacity="0.75" stroke="none"/><path d="M215.19 171.33l1.70 1.70m0 -1.70l-1.70 1.70" stroke="#5ec962"/><rect x="214.74" y="165.41" width="2.60" height="2.60" fill="#5ec962" fill-opacity="0.75" stroke="none"/><path d="M215.19 165.86l1.70 1.70m0 -1.70l-1.70 1.70" stroke="#5ec962"/><rect x="214.74" y="159.93" width="2.60" height="2.60" fill="#5ec962" fill-opacity="0.75" stroke="none"/><path d="M215.19 160.38l1.70 1.70m0 -1.70l-1.70 1.70" stroke="#5ec962"/><rect x="214.74" y="154.45" width="2.60" height="2.60" fill="#5ec962" fill-opacity="0.75" stroke="none"/><path d="M215.19 154.90l1.70 1.70m0 -1.70l-1.70 1.70" stroke="#5ec962"/><rect x="214.74" y="148.97" width="2.60" height="2.60" fill="#5ec962" fill-opacity="0.75" stroke="none"/><path d="M215.19 149.42l1.70 1.70m0 -1.70l-1.70 1.70" stroke="#5ec962"/><rect x="214.74" y="94.19" width="2.60" height="2.60" fill="#21918c" fill-opacity="0.75" stroke="none"/><path d="M215.19 94.64l1.70 1.70m0 -1.70l-1.70 1.70" stroke="#21918c"/><rect x="214.74" y="88.71" width="2.60" height="2.60" fill="#21918c" fill-opacity="0.75" stroke="none"/><path d="M215.19 89.16l1.70 1.70m0 -1.70l-1.70 1.70" stroke="#21918c"/><rect x="214.74" y="66.80" width="2.60" height="2.60" fill="#21918c" fill-opacity="0.75" stroke="none"/><path d="M215.19 67.25l1.70 1.70m0 -1.70l-1.70 1.70" stroke="#21918c"/><rect x="229.46" y="231.14" width="2.60" height="2.60" fill="#fde725" fill-opacity="0.75" stroke="none"/><path d="M229.91 231.59l1.70 1.70m0 -1.70l-1.70 1.70" stroke="#fde725"/><rect x="229.46" y="225.66" width="2.60" height="2.60" fill="#fde725" fill-opacity="0.75" stroke="none"/><path d="M229.91 226.11l1.70 1.70m0 -1.70l-1.70 1.70" stroke="#fde725"/><rect x="229.46" y="214.71" width="2.60" height="2.60" fill="#fde725" fill-opacity="0.75" stroke="none"/><path d="M229.91 215.16l1.70 1.70m0 -1.70l-1.70 1.70" stroke="#fde725"/><rect x="229.46" y="209.23" width="2.60" height="2.60" fill="#fde725" fill-opacity="0.75" stroke="none"/><path d="M229.91 209.68l1.70 1.70m0 -1.70l-1.70 1.70" stroke="#fde725"/><rect x="229.46" y="203.75" width="2.60" height="2.60" fill="#fde725" fill-opacity="0.75" stroke="none"/><path d="M229.91 204.20l1.70 1.70m0 -1.70l-1.70 1.70" stroke="#fde725"/><rect x="229.46" y="198.27" width="2.60" height="2.60" fill="#fde725" fill-opacity="0.75" stroke="none"/><path d="M229.91 198.72l1.70 1.70m0 -1.70l-1.70 1.70" stroke="#fde725"/><rect x="229.46" y="181.84" width="2.60" height="2.60" fill="#fde725" fill-opacity="0.75" stroke="none"/><path d="M229.91 182.29l1.70 1.70m0 -1.70l-1.70 1.70" stroke="#fde725"/><rect x="229.46" y="176.36" width="2.60" height="2.60" fill="#fde725" fill-opacity="0.75" stroke="none"/><path d="M229.91 176.81l1.70 1.70m0 -1.70l-1.70 1.70" stroke="#fde725"/><rect x="229.46" y="143.49" width="2.60" height="2.60" fill="#5ec962" fill-opacity="0.75" stroke="none"/><path d="M229.91 143.94l1.70 1.70m0 -1.70l-1.70 1.70" stroke="#5ec962"/><rect x="229.46" y="88.71" width="2.60" height="2.60" fill="#21918c" fill-opacity="0.75" stroke="none"/><path d="M229.91 89.16l1.70 1.70m0 -1.70l-1.70 1.70" stroke="#21918c"/><rect x="229.46" y="72.28" width="2.60" height="2.60" fill="#21918c" fill-opacity="0.75" stroke="none"/><path d="M229.91 72.73l1.70 1.70m0 -1.70l-1.70 1.70" stroke="#21918c"/><rect x="229.46" y="66.80" width="2.60" height="2.60" fill="#21918c" fill-opacity="0.75" stroke="none"/><path d="M229.91 67.25l1.70 1.70m0 -1.70l-1.70 1.70" stroke="#21918c"/><rect x="229.46" y="44.89" width="2.60" height="2.60" fill="#21918c" fill-opacity="0.75" stroke="none"/><path d="M229.91 45.34l1.70 1.70m0 -1.70l-1.70 1.70" stroke="#21918c"/><rect x="244.18" y="236.62" width="2.60" height="2.60" fill="#fde725" fill-opacity="0.75" stroke="none"/><path d="M244.63 237.07l1.70 1.70m0 -1.70l-1.70 1.70" stroke="#fde725"/><rect x="244.18" y="220.19" width="2.60" height="2.60" fill="#fde725" fill-opacity="0.75" stroke="none"/><path d="M244.63 220.64l1.70 1.70m0 -1.70l-1.70 1.70" stroke="#fde725"/><rect x="244.18" y="209.23" width="2.60" height="2.60" fill="#fde725" fill-opacity="0.75" stroke="none"/><path d="M244.63 209.68l1.70 1.70m0 -1.70l-1.70 1.70" stroke="#fde725"/><rect x="244.18" y="192.80" width="2.60" height="2.60" fill="#fde725" fill-opacity="0.75" stroke="none"/><path d="M244.63 193.25l1.70 1.70m0 -1.70l-1.70 1.70" stroke="#fde725"/><rect x="244.18" y="181.84" width="2.60" height="2.60" fill="#fde725" fill-opacity="0.75" stroke="none"/><path d="M244.63 182.29l1.70 1.70m0 -1.70l-1.70 1.70" stroke="#fde725"/><rect x="244.18" y="176.36" width="2.60" height="2.60" fill="#fde725" fill-opacity="0.75" stroke="none"/><path d="M244.63 176.81l1.70 1.70m0 -1.70l-1.70 1.70" stroke="#fde725"/><rect x="244.18" y="165.41" width="2.60" height="2.60" fill="#5ec962" fill-opacity="0.75" stroke="none"/><path d="M244.63 165.86l1.70 1.70m0 -1.70l-1.70 1.70" stroke="#5ec962"/><rect x="244.18" y="154.45" width="2.60" height="2.60" fill="#5ec962" fill-opacity="0.75" stroke="none"/><path d="M244.63 154.90l1.70 1.70m0 -1.70l-1.70 1.70" stroke="#5ec962"/><rect x="244.18" y="143.49" width="2.60" height="2.60" fill="#5ec962" fill-opacity="0.75" stroke="none"/><path d="M244.63 143.94l1.70 1.70m0 -1.70l-1.70 1.70" stroke="#5ec962"/><rect x="244.18" y="138.02" width="2.60" height="2.60" fill="#5ec962" fill-opacity="0.75" stroke="none"/><path d="M244.63 138.47l1.70 1.70m0 -1.70l-1.70 1.70" stroke="#5ec962"/><rect x="244.18" y="94.19" width="2.60" height="2.60" fill="#21918c" fill-opacity="0.75" stroke="none"/><path d="M244.63 94.64l1.70 1.70m0 -1.70l-1.70 1.70" stroke="#21918c"/><rect x="244.18" y="88.71" width="2.60" height="2.60" fill="#21918c" fill-opacity="0.75" stroke="none"/><path d="M244.63 89.16l1.70 1.70m0 -1.70l-1.70 1.70" stroke="#21918c"/><rect x="244.18" y="77.76" width="2.60" height="2.60" fill="#21918c" fill-opacity="0.75" stroke="none"/><path d="M244.63 78.21l1.70 1.70m0 -1.70l-1.70 1.70" stroke="#21918c"/><rect x="244.18" y="72.28" width="2.60" height="2.60" fill="#21918c" fill-opacity="0.75" stroke="none"/><path d="M244.63 72.73l1.70 1.70m0 -1.70l-1.70 1.70" stroke="#21918c"/><rect x="244.18" y="66.80" width="2.60" height="2.60" fill="#21918c" fill-opacity="0.75" stroke="none"/><path d="M244.63 67.25l1.70 1.70m0 -1.70l-1.70 1.70" stroke="#21918c"/><rect x="244.18" y="50.37" width="2.60" height="2.60" fill="#21918c" fill-opacity="0.75" stroke="none"/><path d="M244.63 50.82l1.70 1.70m0 -1.70l-1.70 1.70" stroke="#21918c"/><rect x="244.18" y="44.89" width="2.60" height="2.60" fill="#21918c" fill-opacity="0.75" stroke="none"/><path d="M244.63 45.34l1.70 1.70m0 -1.70l-1.70 1.70" stroke="#21918c"/><rect x="244.18" y="39.41" width="2.60" height="2.60" fill="#21918c" fill-opacity="0.75" stroke="none"/><path d="M244.63 39.86l1.70 1.70m0 -1.70l-1.70 1.70" stroke="#21918c"/><rect x="244.18" y="22.98" width="2.60" height="2.60" fill="#21918c" fill-opacity="0.75" stroke="none"/><path d="M244.63 23.43l1.70 1.70m0 -1.70l-1.70 1.70" stroke="#21918c"/><rect x="258.90" y="236.62" width="2.60" height="2.60" fill="#fde725" fill-opacity="0.75" stroke="none"/><path d="M259.35 237.07l1.70 1.70m0 -1.70l-1.70 1.70" stroke="#fde725"/><rect x="258.90" y="165.41" width="2.60" height="2.60" fill="#5ec962" fill-opacity="0.75" stroke="none"/><path d="M259.35 165.86l1.70 1.70m0 -1.70l-1.70 1.70" stroke="#5ec962"/><rect x="258.90" y="159.93" width="2.60" height="2.60" fill="#5ec962" fill-opacity="0.75" stroke="none"/><path d="M259.35 160.38l1.70 1.70m0 -1.70l-1.70 1.70" stroke="#5ec962"/><rect x="258.90" y="110.63" width="2.60" height="2.60" fill="#5ec962" fill-opacity="0.75" stroke="none"/><path d="M259.35 111.08l1.70 1.70m0 -1.70l-1.70 1.70" stroke="#5ec962"/><rect x="258.90" y="105.15" width="2.60" height="2.60" fill="#5ec962" fill-opacity="0.75" stroke="none"/><path d="M259.35 105.60l1.70 1.70m0 -1.70l-1.70 1.70" stroke="#5ec962"/><rect x="258.90" y="66.80" width="2.60" height="2.60" fill="#21918c" fill-opacity="0.75" stroke="none"/><path d="M259.35 67.25l1.70 1.70m0 -1.70l-1.70 1.70" stroke="#21918c"/><rect x="258.90" y="61.32" width="2.60" height="2.60" fill="#21918c" fill-opacity="0.75" stroke="none"/><path d="M259.35 61.77l1.70 1.70m0 -1.70l-1.70 1.70" stroke="#21918c"/><rect x="258.90" y="50.37" width="2.60" height="2.60" fill="#21918c" fill-opacity="0.75" stroke="none"/><path d="M259.35 50.82l1.70 1.70m0 -1.70l-1.70 1.70" stroke="#21918c"/><rect x="258.90" y="44.89" width="2.60" height="2.60" fill="#21918c" fill-opacity="0.75" stroke="none"/><path d="M259.35 45.34l1.70 1.70m0 -1.70l-1.70 1.70" stroke="#21918c"/><rect x="258.90" y="28.46" width="2.60" height="2.60" fill="#21918c" fill-opacity="0.75" stroke="none"/><path d="M259.35 28.91l1.70 1.70m0 -1.70l-1.70 1.70" stroke="#21918c"/><rect x="258.90" y="22.98" width="2.60" height="2.60" fill="#21918c" fill-opacity="0.75" stroke="none"/><path d="M259.35 23.43l1.70 1.70m0 -1.70l-1.70 1.70" stroke="#21918c"/><rect x="273.62" y="236.62" width="2.60" height="2.60" fill="#fde725" fill-opacity="0.75" stroke="none"/><path d="M274.07 237.07l1.70 1.70m0 -1.70l-1.70 1.70" stroke="#fde725"/><rect x="273.62" y="231.14" width="2.60" height="2.60" fill="#fde725" fill-opacity="0.75" stroke="none"/><path d="M274.07 231.59l1.70 1.70m0 -1.70l-1.70 1.70" stroke="#fde725"/><rect x="273.62" y="225.66" width="2.60" height="2.60" fill="#fde725" fill-opacity="0.75" stroke="none"/><path d="M274.07 226.11l1.70 1.70m0 -1.70l-1.70 1.70" stroke="#fde725"/><rect x="273.62" y="214.71" width="2.60" height="2.60" fill="#fde725" fill-opacity="0.75" stroke="none"/><path d="M274.07 215.16l1.70 1.70m0 -1.70l-1.70 1.70" stroke="#fde725"/><rect x="273.62" y="209.23" width="2.60" height="2.60" fill="#fde725" fill-opacity="0.75" stroke="none"/><path d="M274.07 209.68l1.70 1.70m0 -1.70l-1.70 1.70" stroke="#fde725"/><rect x="273.62" y="198.27" width="2.60" height="2.60" fill="#fde725" fill-opacity="0.75" stroke="none"/><path d="M274.07 198.72l1.70 1.70m0 -1.70l-1.70 1.70" stroke="#fde725"/><rect x="273.62" y="192.80" width="2.60" height="2.60" fill="#fde725" fill-opacity="0.75" stroke="none"/><path d="M274.07 193.25l1.70 1.70m0 -1.70l-1.70 1.70" stroke="#fde725"/><rect x="273.62" y="187.32" width="2.60" height="2.60" fill="#fde725" fill-opacity="0.75" stroke="none"/><path d="M274.07 187.77l1.70 1.70m0 -1.70l-1.70 1.70" stroke="#fde725"/><rect x="273.62" y="170.88" width="2.60" height="2.60" fill="#5ec962" fill-opacity="0.75" stroke="none"/><path d="M274.07 171.33l1.70 1.70m0 -1.70l-1.70 1.70" stroke="#5ec962"/><rect x="273.62" y="154.45" width="2.60" height="2.60" fill="#5ec962" fill-opacity="0.75" stroke="none"/><path d="M274.07 154.90l1.70 1.70m0 -1.70l-1.70 1.70" stroke="#5ec962"/><rect x="273.62" y="148.97" width="2.60" height="2.60" fill="#5ec962" fill-opacity="0.75" stroke="none"/><path d="M274.07 149.42l1.70 1.70m0 -1.70l-1.70 1.70" stroke="#5ec962"/><rect x="273.62" y="138.02" width="2.60" height="2.60" fill="#5ec962" fill-opacity="0.75" stroke="none"/><path d="M274.07 138.47l1.70 1.70m0 -1.70l-1.70 1.70" stroke="#5ec962"/><rect x="273.62" y="132.54" width="2.60" height="2.60" fill="#5ec962" fill-opacity="0.75" stroke="none"/><path d="M274.07 132.99l1.70 1.70m0 -1.70l-1.70 1.70" stroke="#5ec962"/><rect x="273.62" y="116.10" width="2.60" height="2.60" fill="#5ec962" fill-opacity="0.75" stroke="none"/><path d="M274.07 116.55l1.70 1.70m0 -1.70l-1.70 1.70" stroke="#5ec962"/><rect x="273.62" y="110.63" width="2.60" height="2.60" fill="#5ec962" fill-opacity="0.75" stroke="none"/><path d="M274.07 111.08l1.70 1.70m0 -1.70l-1.70 1.70" stroke="#5ec962"/><rect x="273.62" y="105.15" width="2.60" height="2.60" fill="#5ec962" fill-opacity="0.75" stroke="none"/><path d="M274.07 105.60l1.70 1.70m0 -1.70l-1.70 1.70" stroke="#5ec962"/><rect x="273.62" y="94.19" width="2.60" height="2.60" fill="#21918c" fill-opacity="0.75" stroke="none"/><path d="M274.07 94.64l1.70 1.70m0 -1.70l-1.70 1.70" stroke="#21918c"/><rect x="273.62" y="61.32" width="2.60" height="2.60" fill="#21918c" fill-opacity="0.75" stroke="none"/><path d="M274.07 61.77l1.70 1.70m0 -1.70l-1.70 1.70" stroke="#21918c"/><rect x="273.62" y="44.89" width="2.60" height="2.60" fill="#21918c" fill-opacity="0.75" stroke="none"/><path d="M274.07 45.34l1.70 1.70m0 -1.70l-1.70 1.70" stroke="#21918c"/><rect x="273.62" y="22.98" width="2.60" height="2.60" fill="#21918c" fill-opacity="0.75" stroke="none"/><path d="M274.07 23.43l1.70 1.70m0 -1.70l-1.70 1.70" stroke="#21918c"/><rect x="288.34" y="236.62" width="2.60" height="2.60" fill="#fde725" fill-opacity="0.75" stroke="none"/><path d="M288.79 237.07l1.70 1.70m0 -1.70l-1.70 1.70" stroke="#fde725"/><rect x="288.34" y="231.14" width="2.60" height="2.60" fill="#fde725" fill-opacity="0.75" stroke="none"/><path d="M288.79 231.59l1.70 1.70m0 -1.70l-1.70 1.70" stroke="#fde725"/><rect x="288.34" y="225.66" width="2.60" height="2.60" fill="#fde725" fill-opacity="0.75" stroke="none"/><path d="M288.79 226.11l1.70 1.70m0 -1.70l-1.70 1.70" stroke="#fde725"/><rect x="288.34" y="220.19" width="2.60" height="2.60" fill="#fde725" fill-opacity="0.75" stroke="none"/><path d="M288.79 220.64l1.70 1.70m0 -1.70l-1.70 1.70" stroke="#fde725"/><rect x="288.34" y="203.75" width="2.60" height="2.60" fill="#fde725" fill-opacity="0.75" stroke="none"/><path d="M288.79 204.20l1.70 1.70m0 -1.70l-1.70 1.70" stroke="#fde725"/><rect x="288.34" y="198.27" width="2.60" height="2.60" fill="#fde725" fill-opacity="0.75" stroke="none"/><path d="M288.79 198.72l1.70 1.70m0 -1.70l-1.70 1.70" stroke="#fde725"/><rect x="288.34" y="192.80" width="2.60" height="2.60" fill="#fde725" fill-opacity="0.75" stroke="none"/><path d="M288.79 193.25l1.70 1.70m0 -1.70l-1.70 1.70" stroke="#fde725"/><rect x="288.34" y="181.84" width="2.60" height="2.60" fill="#fde725" fill-opacity="0.75" stroke="none"/><path d="M288.79 182.29l1.70 1.70m0 -1.70l-1.70 1.70" stroke="#fde725"/><rect x="288.34" y="127.06" width="2.60" height="2.60" fill="#5ec962" fill-opacity="0.75" stroke="none"/><path d="M288.79 127.51l1.70 1.70m0 -1.70l-1.70 1.70" stroke="#5ec962"/><rect x="288.34" y="110.63" width="2.60" height="2.60" fill="#5ec962" fill-opacity="0.75" stroke="none"/><path d="M288.79 111.08l1.70 1.70m0 -1.70l-1.70 1.70" stroke="#5ec962"/><rect x="288.34" y="61.32" width="2.60" height="2.60" fill="#21918c" fill-opacity="0.75" stroke="none"/><path d="M288.79 61.77l1.70 1.70m0 -1.70l-1.70 1.70" stroke="#21918c"/><rect x="288.34" y="55.85" width="2.60" height="2.60" fill="#21918c" fill-opacity="0.75" stroke="none"/><path d="M288.79 56.30l1.70 1.70m0 -1.70l-1.70 1.70" stroke="#21918c"/><rect x="288.34" y="33.93" width="2.60" height="2.60" fill="#21918c" fill-opacity="0.75" stroke="none"/><path d="M288.79 34.38l1.70 1.70m0 -1.70l-1.70 1.70" stroke="#21918c"/><rect x="288.34" y="28.46" width="2.60" height="2.60" fill="#21918c" fill-opacity="0.75" stroke="none"/><path d="M288.79 28.91l1.70 1.70m0 -1.70l-1.70 1.70" stroke="#21918c"/><rect x="288.34" y="22.98" width="2.60" height="2.60" fill="#21918c" fill-opacity="0.75" stroke="none"/><path d="M288.79 23.43l1.70 1.70m0 -1.70l-1.70 1.70" stroke="#21918c"/><rect x="303.06" y="231.14" width="2.60" height="2.60" fill="#fde725" fill-opacity="0.75" stroke="none"/><path d="M303.51 231.59l1.70 1.70m0 -1.70l-1.70 1.70" stroke="#fde725"/><rect x="303.06" y="220.19" width="2.60" height="2.60" fill="#fde725" fill-opacity="0.75" stroke="none"/><path d="M303.51 220.64l1.70 1.70m0 -1.70l-1.70 1.70" stroke="#fde725"/><rect x="303.06" y="214.71" width="2.60" height="2.60" fill="#fde725" fill-opacity="0.75" stroke="none"/><path d="M303.51 215.16l1.70 1.70m0 -1.70l-1.70 1.70" stroke="#fde725"/><rect x="303.06" y="209.23" width="2.60" height="2.60" fill="#fde725" fill-opacity="0.75" stroke="none"/><path d="M303.51 209.68l1.70 1.70m0 -1.70l-1.70 1.70" stroke="#fde725"/><rect x="303.06" y="203.75" width="2.60" height="2.60" fill="#fde725" fill-opacity="0.75" stroke="none"/><path d="M303.51 204.20l1.70 1.70m0 -1.70l-1.70 1.70" stroke="#fde725"/><rect x="303.06" y="187.32" width="2.60" height="2.60" fill="#fde725" fill-opacity="0.75" stroke="none"/><path d="M303.51 187.77l1.70 1.70m0 -1.70l-1.70 1.70" stroke="#fde725"/><rect x="303.06" y="181.84" width="2.60" height="2.60" fill="#fde725" fill-opacity="0.75" stroke="none"/><path d="M303.51 182.29l1.70 1.70m0 -1.70l-1.70 1.70" stroke="#fde725"/><rect x="303.06" y="176.36" width="2.60" height="2.60" fill="#fde725" fill-opacity="0.75" stroke="none"/><path d="M303.51 176.81l1.70 1.70m0 -1.70l-1.70 1.70" stroke="#fde725"/><rect x="303.06" y="165.41" width="2.60" height="2.60" fill="#5ec962" fill-opacity="0.75" stroke="none"/><path d="M303.51 165.86l1.70 1.70m0 -1.70l-1.70 1.70" stroke="#5ec962"/><rect x="303.06" y="143.49" width="2.60" height="2.60" fill="#5ec962" fill-opacity="0.75" stroke="none"/><path d="M303.51 143.94l1.70 1.70m0 -1.70l-1.70 1.70" stroke="#5ec962"/><rect x="303.06" y="138.02" width="2.60" height="2.60" fill="#5ec962" fill-opacity="0.75" stroke="none"/><path d="M303.51 138.47l1.70 1.70m0 -1.70l-1.70 1.70" stroke="#5ec962"/><rect x="303.06" y="127.06" width="2.60" height="2.60" fill="#5ec962" fill-opacity="0.75" stroke="none"/><path d="M303.51 127.51l1.70 1.70m0 -1.70l-1.70 1.70" stroke="#5ec962"/><rect x="303.06" y="110.63" width="2.60" height="2.60" fill="#5ec962" fill-opacity="0.75" stroke="none"/><path d="M303.51 111.08l1.70 1.70m0 -1.70l-1.70 1.70" stroke="#5ec962"/><rect x="303.06" y="99.67" width="2.60" height="2.60" fill="#5ec962" fill-opacity="0.75" stroke="none"/><path d="M303.51 100.12l1.70 1.70m0 -1.70l-1.70 1.70" stroke="#5ec962"/><rect x="303.06" y="88.71" width="2.60" height="2.60" fill="#21918c" fill-opacity="0.75" stroke="none"/><path d="M303.51 89.16l1.70 1.70m0 -1.70l-1.70 1.70" stroke="#21918c"/><rect x="303.06" y="72.28" width="2.60" height="2.60" fill="#21918c" fill-opacity="0.75" stroke="none"/><path d="M303.51 72.73l1.70 1.70m0 -1.70l-1.70 1.70" stroke="#21918c"/><rect x="303.06" y="66.80" width="2.60" height="2.60" fill="#21918c" fill-opacity="0.75" stroke="none"/><path d="M303.51 67.25l1.70 1.70m0 -1.70l-1.70 1.70" stroke="#21918c"/><rect x="303.06" y="55.85" width="2.60" height="2.60" fill="#21918c" fill-opacity="0.75" stroke="none"/><path d="M303.51 56.30l1.70 1.70m0 -1.70l-1.70 1.70" stroke="#21918c"/><rect x="303.06" y="44.89" width="2.60" height="2.60" fill="#21918c" fill-opacity="0.75" stroke="none"/><path d="M303.51 45.34l1.70 1.70m0 -1.70l-1.70 1.70" stroke="#21918c"/><rect x="303.06" y="39.41" width="2.60" height="2.60" fill="#21918c" fill-opacity="0.75" stroke="none"/><path d="M303.51 39.86l1.70 1.70m0 -1.70l-1.70 1.70" stroke="#21918c"/><rect x="317.78" y="231.14" width="2.60" height="2.60" fill="#fde725" fill-opacity="0.75" stroke="none"/><path d="M318.23 231.59l1.70 1.70m0 -1.70l-1.70 1.70" stroke="#fde725"/><rect x="317.78" y="225.66" width="2.60" height="2.60" fill="#fde725" fill-opacity="0.75" stroke="none"/><path d="M318.23 226.11l1.70 1.70m0 -1.70l-1.70 1.70" stroke="#fde725"/><rect x="317.78" y="220.19" width="2.60" height="2.60" fill="#fde725" fill-opacity="0.75" stroke="none"/><path d="M318.23 220.64l1.70 1.70m0 -1.70l-1.70 1.70" stroke="#fde725"/><rect x="317.78" y="214.71" width="2.60" height="2.60" fill="#fde725" fill-opacity="0.75" stroke="none"/><path d="M318.23 215.16l1.70 1.70m0 -1.70l-1.70 1.70" stroke="#fde725"/><rect x="317.78" y="187.32" width="2.60" height="2.60" fill="#fde725" fill-opacity="0.75" stroke="none"/><path d="M318.23 187.77l1.70 1.70m0 -1.70l-1.70 1.70" stroke="#fde725"/><rect x="317.78" y="181.84" width="2.60" height="2.60" fill="#fde725" fill-opacity="0.75" stroke="none"/><path d="M318.23 182.29l1.70 1.70m0 -1.70l-1.70 1.70" stroke="#fde725"/><rect x="317.78" y="170.88" width="2.60" height="2.60" fill="#fde725" fill-opacity="0.75" stroke="none"/><path d="M318.23 171.33l1.70 1.70m0 -1.70l-1.70 1.70" stroke="#fde725"/><rect x="317.78" y="165.41" width="2.60" height="2.60" fill="#5ec962" fill-opacity="0.75" stroke="none"/><path d="M318.23 165.86l1.70 1.70m0 -1.70l-1.70 1.70" stroke="#5ec962"/><rect x="317.78" y="159.93" width="2.60" height="2.60" fill="#5ec962" fill-opacity="0.75" stroke="none"/><path d="M318.23 160.38l1.70 1.70m0 -1.70l-1.70 1.70" stroke="#5ec962"/><rect x="317.78" y="154.45" width="2.60" height="2.60" fill="#5ec962" fill-opacity="0.75" stroke="none"/><path d="M318.23 154.90l1.70 1.70m0 -1.70l-1.70 1.70" stroke="#5ec962"/><rect x="317.78" y="148.97" width="2.60" height="2.60" fill="#5ec962" fill-opacity="0.75" stroke="none"/><path d="M318.23 149.42l1.70 1.70m0 -1.70l-1.70 1.70" stroke="#5ec962"/><rect x="317.78" y="143.49" width="2.60" height="2.60" fill="#5ec962" fill-opacity="0.75" stroke="none"/><path d="M318.23 143.94l1.70 1.70m0 -1.70l-1.70 1.70" stroke="#5ec962"/><rect x="317.78" y="121.58" width="2.60" height="2.60" fill="#5ec962" fill-opacity="0.75" stroke="none"/><path d="M318.23 122.03l1.70 1.70m0 -1.70l-1.70 1.70" stroke="#5ec962"/><rect x="317.78" y="99.67" width="2.60" height="2.60" fill="#5ec962" fill-opacity="0.75" stroke="none"/><path d="M318.23 100.12l1.70 1.70m0 -1.70l-1.70 1.70" stroke="#5ec962"/><rect x="317.78" y="88.71" width="2.60" height="2.60" fill="#21918c" fill-opacity="0.75" stroke="none"/><path d="M318.23 89.16l1.70 1.70m0 -1.70l-1.70 1.70" stroke="#21918c"/><rect x="317.78" y="72.28" width="2.60" height="2.60" fill="#21918c" fill-opacity="0.75" stroke="none"/><path d="M318.23 72.73l1.70 1.70m0 -1.70l-1.70 1.70" stroke="#21918c"/><rect x="229.46" y="138.02" width="2.60" height="2.60" fill="#5ec962" fill-opacity="0.75" stroke="none"/><path d="M229.91 138.47l1.70 1.70m0 -1.70l-1.70 1.70" stroke="#5ec962"/><rect x="96.98" y="181.84" width="2.60" height="2.60" fill="#3b528b" fill-opacity="0.75" stroke="none"/><path d="M97.43 182.29l1.70 1.70m0 -1.70l-1.70 1.70" stroke="#3b528b"/><rect x="52.82" y="231.14" width="2.60" height="2.60" fill="#3b528b" fill-opacity="0.75" stroke="none"/><path d="M53.27 231.59l1.70 1.70m0 -1.70l-1.70 1.70" stroke="#3b528b"/><rect x="67.54" y="231.14" width="2.60" height="2.60" fill="#3b528b" fill-opacity="0.75" stroke="none"/><path d="M67.99 231.59l1.70 1.70m0 -1.70l-1.70 1.70" stroke="#3b528b"/></g><g fill="#0000ff"><circle cx="88.5" cy="71.2" r="4"/><circle cx="232.6" cy="61.7" r="4"/><circle cx="229.5" cy="138.2" r="4"/><circle cx="99.3" cy="178.85" r="4"/><circle cx="257.4" cy="211.5" r="4"/></g><path d="M25.42 13.8V248.8H333.80" stroke="#444" stroke-width="0.9" fill="none" stroke-linecap="square"/><path d="M39.40 248.8v-2.6M54.12 248.8v-2.6M68.84 248.8v-2.6M83.56 248.8v-2.6M98.28 248.8v-2.6M113.00 248.8v-2.6M127.72 248.8v-2.6M142.44 248.8v-2.6M157.16 248.8v-2.6M171.88 248.8v-2.6M186.60 248.8v-2.6M201.32 248.8v-2.6M216.04 248.8v-2.6M230.76 248.8v-2.6M245.48 248.8v-2.6M260.20 248.8v-2.6M274.92 248.8v-2.6M289.64 248.8v-2.6M304.36 248.8v-2.6M319.08 248.8v-2.6M333.80 248.8v-2.6M25.42 237.92h2.4M25.42 210.53h2.4M25.42 183.14h2.4M25.42 155.75h2.4M25.42 128.36h2.4M25.42 100.97h2.4M25.42 73.58h2.4M25.42 46.19h2.4M25.42 18.80h2.4" stroke="#333" stroke-width="0.8" fill="none"/><g font-size="9.3" fill="#3a3a3a" stroke="#3a3a3a" stroke-width="0.2"><text x="39.40" y="258.2" font-size="9.9" text-anchor="middle" textLength="9.5" lengthAdjust="spacingAndGlyphs">15</text><text x="54.12" y="258.2" font-size="9.9" text-anchor="middle" textLength="9.5" lengthAdjust="spacingAndGlyphs">16</text><text x="68.84" y="258.2" font-size="9.9" text-anchor="middle" textLength="9.5" lengthAdjust="spacingAndGlyphs">17</text><text x="83.56" y="258.2" font-size="9.9" text-anchor="middle" textLength="9.5" lengthAdjust="spacingAndGlyphs">18</text><text x="98.28" y="258.2" font-size="9.9" text-anchor="middle" textLength="9.5" lengthAdjust="spacingAndGlyphs">19</text><text x="113.00" y="258.2" font-size="9.9" text-anchor="middle" textLength="9.5" lengthAdjust="spacingAndGlyphs">20</text><text x="127.72" y="258.2" font-size="9.9" text-anchor="middle" textLength="9.5" lengthAdjust="spacingAndGlyphs">21</text><text x="142.44" y="258.2" font-size="9.9" text-anchor="middle" textLength="9.5" lengthAdjust="spacingAndGlyphs">22</text><text x="157.16" y="258.2" font-size="9.9" text-anchor="middle" textLength="9.5" lengthAdjust="spacingAndGlyphs">23</text><text x="171.88" y="258.2" font-size="9.9" text-anchor="middle" textLength="9.5" lengthAdjust="spacingAndGlyphs">24</text><text x="186.60" y="258.2" font-size="9.9" text-anchor="middle" textLength="9.5" lengthAdjust="spacingAndGlyphs">25</text><text x="201.32" y="258.2" font-size="9.9" text-anchor="middle" textLength="9.5" lengthAdjust="spacingAndGlyphs">26</text><text x="216.04" y="258.2" font-size="9.9" text-anchor="middle" textLength="9.5" lengthAdjust="spacingAndGlyphs">27</text><text x="230.76" y="258.2" font-size="9.9" text-anchor="middle" textLength="9.5" lengthAdjust="spacingAndGlyphs">28</text><text x="245.48" y="258.2" font-size="9.9" text-anchor="middle" textLength="9.5" lengthAdjust="spacingAndGlyphs">29</text><text x="260.20" y="258.2" font-size="9.9" text-anchor="middle" textLength="9.5" lengthAdjust="spacingAndGlyphs">30</text><text x="274.92" y="258.2" font-size="9.9" text-anchor="middle" textLength="9.5" lengthAdjust="spacingAndGlyphs">31</text><text x="289.64" y="258.2" font-size="9.9" text-anchor="middle" textLength="9.5" lengthAdjust="spacingAndGlyphs">32</text><text x="304.36" y="258.2" font-size="9.9" text-anchor="middle" textLength="9.5" lengthAdjust="spacingAndGlyphs">33</text><text x="319.08" y="258.2" font-size="9.9" text-anchor="middle" textLength="9.5" lengthAdjust="spacingAndGlyphs">34</text><text x="333.80" y="258.2" font-size="9.9" text-anchor="middle" textLength="9.5" lengthAdjust="spacingAndGlyphs">35</text><text x="21.82" y="241.32" text-anchor="end" textLength="9.3" lengthAdjust="spacingAndGlyphs">40</text><text x="21.82" y="213.93" text-anchor="end" textLength="9.3" lengthAdjust="spacingAndGlyphs">45</text><text x="21.82" y="186.54" text-anchor="end" textLength="9.3" lengthAdjust="spacingAndGlyphs">50</text><text x="21.82" y="159.15" text-anchor="end" textLength="9.3" lengthAdjust="spacingAndGlyphs">55</text><text x="21.82" y="131.76" text-anchor="end" textLength="9.3" lengthAdjust="spacingAndGlyphs">60</text><text x="21.82" y="104.37" text-anchor="end" textLength="9.3" lengthAdjust="spacingAndGlyphs">65</text><text x="21.82" y="76.98" text-anchor="end" textLength="9.3" lengthAdjust="spacingAndGlyphs">70</text><text x="21.82" y="49.59" text-anchor="end" textLength="9.3" lengthAdjust="spacingAndGlyphs">75</text><text x="21.82" y="22.20" text-anchor="end" textLength="9.3" lengthAdjust="spacingAndGlyphs">80</text></g><rect x="29.02" y="222.4" width="78.4" height="23" rx="2" fill="#fff" fill-opacity="0.8" stroke="#d5d5d5" stroke-width="0.7"/><g stroke-width="0.9" fill="none" stroke-linecap="square"><rect x="37.22" y="227.30" width="2.60" height="2.60" fill="#21918c" fill-opacity="0.75" stroke="none"/><path d="M37.67 227.75l1.70 1.70m0 -1.70l-1.70 1.70" stroke="#21918c"/></g><circle cx="38.52" cy="239.2" r="3.9" fill="#0000ff"/><g font-size="7.8" fill="#3a3a3a"><text x="50.82" y="230.8" textLength="47" lengthAdjust="spacingAndGlyphs">Sensor points</text><text x="50.82" y="241.3" textLength="53.5" lengthAdjust="spacingAndGlyphs">Cluster Centers</text></g><path d="M384.50 13.8V248.5M399.25 13.8V248.5M414.00 13.8V248.5M428.75 13.8V248.5M443.50 13.8V248.5M458.25 13.8V248.5M473.00 13.8V248.5M487.75 13.8V248.5M502.50 13.8V248.5M517.25 13.8V248.5M532.00 13.8V248.5M546.75 13.8V248.5M561.50 13.8V248.5M576.25 13.8V248.5M591.00 13.8V248.5M605.75 13.8V248.5M620.50 13.8V248.5M635.25 13.8V248.5M650.00 13.8V248.5M664.75 13.8V248.5M679.50 13.8V248.5M370.49 237.92H679.50M370.49 210.53H679.50M370.49 183.14H679.50M370.49 155.75H679.50M370.49 128.36H679.50M370.49 100.97H679.50M370.49 73.58H679.50M370.49 46.19H679.50M370.49 18.80H679.50" stroke="#b4b4b4" stroke-width="0.7" stroke-dasharray="1 1.1" fill="none" opacity="0.95"/><g stroke-width="0.9" fill="none" stroke-linecap="square"><rect x="383.20" y="214.71" width="2.60" height="2.60" fill="#39558c" fill-opacity="0.75" stroke="none"/><path d="M383.65 215.16l1.70 1.70m0 -1.70l-1.70 1.70" stroke="#39558c"/><rect x="383.20" y="187.32" width="2.60" height="2.60" fill="#bade28" fill-opacity="0.75" stroke="none"/><path d="M383.65 187.77l1.70 1.70m0 -1.70l-1.70 1.70" stroke="#bade28"/><rect x="383.20" y="181.84" width="2.60" height="2.60" fill="#bade28" fill-opacity="0.75" stroke="none"/><path d="M383.65 182.29l1.70 1.70m0 -1.70l-1.70 1.70" stroke="#bade28"/><rect x="383.20" y="176.36" width="2.60" height="2.60" fill="#bade28" fill-opacity="0.75" stroke="none"/><path d="M383.65 176.81l1.70 1.70m0 -1.70l-1.70 1.70" stroke="#bade28"/><rect x="383.20" y="170.88" width="2.60" height="2.60" fill="#bade28" fill-opacity="0.75" stroke="none"/><path d="M383.65 171.33l1.70 1.70m0 -1.70l-1.70 1.70" stroke="#bade28"/><rect x="383.20" y="159.93" width="2.60" height="2.60" fill="#1f968b" fill-opacity="0.75" stroke="none"/><path d="M383.65 160.38l1.70 1.70m0 -1.70l-1.70 1.70" stroke="#1f968b"/><rect x="383.20" y="154.45" width="2.60" height="2.60" fill="#1f968b" fill-opacity="0.75" stroke="none"/><path d="M383.65 154.90l1.70 1.70m0 -1.70l-1.70 1.70" stroke="#1f968b"/><rect x="383.20" y="143.49" width="2.60" height="2.60" fill="#1f968b" fill-opacity="0.75" stroke="none"/><path d="M383.65 143.94l1.70 1.70m0 -1.70l-1.70 1.70" stroke="#1f968b"/><rect x="383.20" y="127.06" width="2.60" height="2.60" fill="#440154" fill-opacity="0.75" stroke="none"/><path d="M383.65 127.51l1.70 1.70m0 -1.70l-1.70 1.70" stroke="#440154"/><rect x="383.20" y="116.10" width="2.60" height="2.60" fill="#440154" fill-opacity="0.75" stroke="none"/><path d="M383.65 116.55l1.70 1.70m0 -1.70l-1.70 1.70" stroke="#440154"/><rect x="383.20" y="110.63" width="2.60" height="2.60" fill="#440154" fill-opacity="0.75" stroke="none"/><path d="M383.65 111.08l1.70 1.70m0 -1.70l-1.70 1.70" stroke="#440154"/><rect x="383.20" y="105.15" width="2.60" height="2.60" fill="#440154" fill-opacity="0.75" stroke="none"/><path d="M383.65 105.60l1.70 1.70m0 -1.70l-1.70 1.70" stroke="#440154"/><rect x="383.20" y="94.19" width="2.60" height="2.60" fill="#2d718e" fill-opacity="0.75" stroke="none"/><path d="M383.65 94.64l1.70 1.70m0 -1.70l-1.70 1.70" stroke="#2d718e"/><rect x="383.20" y="83.24" width="2.60" height="2.60" fill="#2d718e" fill-opacity="0.75" stroke="none"/><path d="M383.65 83.69l1.70 1.70m0 -1.70l-1.70 1.70" stroke="#2d718e"/><rect x="383.20" y="72.28" width="2.60" height="2.60" fill="#2d718e" fill-opacity="0.75" stroke="none"/><path d="M383.65 72.73l1.70 1.70m0 -1.70l-1.70 1.70" stroke="#2d718e"/><rect x="383.20" y="55.85" width="2.60" height="2.60" fill="#75d054" fill-opacity="0.75" stroke="none"/><path d="M383.65 56.30l1.70 1.70m0 -1.70l-1.70 1.70" stroke="#75d054"/><rect x="383.20" y="50.37" width="2.60" height="2.60" fill="#75d054" fill-opacity="0.75" stroke="none"/><path d="M383.65 50.82l1.70 1.70m0 -1.70l-1.70 1.70" stroke="#75d054"/><rect x="383.20" y="33.93" width="2.60" height="2.60" fill="#75d054" fill-opacity="0.75" stroke="none"/><path d="M383.65 34.38l1.70 1.70m0 -1.70l-1.70 1.70" stroke="#75d054"/><rect x="383.20" y="22.98" width="2.60" height="2.60" fill="#75d054" fill-opacity="0.75" stroke="none"/><path d="M383.65 23.43l1.70 1.70m0 -1.70l-1.70 1.70" stroke="#75d054"/><rect x="397.95" y="214.71" width="2.60" height="2.60" fill="#39558c" fill-opacity="0.75" stroke="none"/><path d="M398.40 215.16l1.70 1.70m0 -1.70l-1.70 1.70" stroke="#39558c"/><rect x="397.95" y="192.80" width="2.60" height="2.60" fill="#bade28" fill-opacity="0.75" stroke="none"/><path d="M398.40 193.25l1.70 1.70m0 -1.70l-1.70 1.70" stroke="#bade28"/><rect x="397.95" y="187.32" width="2.60" height="2.60" fill="#bade28" fill-opacity="0.75" stroke="none"/><path d="M398.40 187.77l1.70 1.70m0 -1.70l-1.70 1.70" stroke="#bade28"/><rect x="397.95" y="159.93" width="2.60" height="2.60" fill="#1f968b" fill-opacity="0.75" stroke="none"/><path d="M398.40 160.38l1.70 1.70m0 -1.70l-1.70 1.70" stroke="#1f968b"/><rect x="397.95" y="154.45" width="2.60" height="2.60" fill="#1f968b" fill-opacity="0.75" stroke="none"/><path d="M398.40 154.90l1.70 1.70m0 -1.70l-1.70 1.70" stroke="#1f968b"/><rect x="397.95" y="148.97" width="2.60" height="2.60" fill="#1f968b" fill-opacity="0.75" stroke="none"/><path d="M398.40 149.42l1.70 1.70m0 -1.70l-1.70 1.70" stroke="#1f968b"/><rect x="397.95" y="143.49" width="2.60" height="2.60" fill="#1f968b" fill-opacity="0.75" stroke="none"/><path d="M398.40 143.94l1.70 1.70m0 -1.70l-1.70 1.70" stroke="#1f968b"/><rect x="397.95" y="138.02" width="2.60" height="2.60" fill="#1f968b" fill-opacity="0.75" stroke="none"/><path d="M398.40 138.47l1.70 1.70m0 -1.70l-1.70 1.70" stroke="#1f968b"/><rect x="397.95" y="105.15" width="2.60" height="2.60" fill="#440154" fill-opacity="0.75" stroke="none"/><path d="M398.40 105.60l1.70 1.70m0 -1.70l-1.70 1.70" stroke="#440154"/><rect x="397.95" y="94.19" width="2.60" height="2.60" fill="#2d718e" fill-opacity="0.75" stroke="none"/><path d="M398.40 94.64l1.70 1.70m0 -1.70l-1.70 1.70" stroke="#2d718e"/><rect x="397.95" y="77.76" width="2.60" height="2.60" fill="#2d718e" fill-opacity="0.75" stroke="none"/><path d="M398.40 78.21l1.70 1.70m0 -1.70l-1.70 1.70" stroke="#2d718e"/><rect x="397.95" y="66.80" width="2.60" height="2.60" fill="#2d718e" fill-opacity="0.75" stroke="none"/><path d="M398.40 67.25l1.70 1.70m0 -1.70l-1.70 1.70" stroke="#2d718e"/><rect x="397.95" y="39.41" width="2.60" height="2.60" fill="#75d054" fill-opacity="0.75" stroke="none"/><path d="M398.40 39.86l1.70 1.70m0 -1.70l-1.70 1.70" stroke="#75d054"/><rect x="412.70" y="209.23" width="2.60" height="2.60" fill="#39558c" fill-opacity="0.75" stroke="none"/><path d="M413.15 209.68l1.70 1.70m0 -1.70l-1.70 1.70" stroke="#39558c"/><rect x="412.70" y="192.80" width="2.60" height="2.60" fill="#bade28" fill-opacity="0.75" stroke="none"/><path d="M413.15 193.25l1.70 1.70m0 -1.70l-1.70 1.70" stroke="#bade28"/><rect x="412.70" y="187.32" width="2.60" height="2.60" fill="#bade28" fill-opacity="0.75" stroke="none"/><path d="M413.15 187.77l1.70 1.70m0 -1.70l-1.70 1.70" stroke="#bade28"/><rect x="412.70" y="148.97" width="2.60" height="2.60" fill="#1f968b" fill-opacity="0.75" stroke="none"/><path d="M413.15 149.42l1.70 1.70m0 -1.70l-1.70 1.70" stroke="#1f968b"/><rect x="412.70" y="138.02" width="2.60" height="2.60" fill="#1f968b" fill-opacity="0.75" stroke="none"/><path d="M413.15 138.47l1.70 1.70m0 -1.70l-1.70 1.70" stroke="#1f968b"/><rect x="412.70" y="127.06" width="2.60" height="2.60" fill="#440154" fill-opacity="0.75" stroke="none"/><path d="M413.15 127.51l1.70 1.70m0 -1.70l-1.70 1.70" stroke="#440154"/><rect x="412.70" y="116.10" width="2.60" height="2.60" fill="#440154" fill-opacity="0.75" stroke="none"/><path d="M413.15 116.55l1.70 1.70m0 -1.70l-1.70 1.70" stroke="#440154"/><rect x="412.70" y="110.63" width="2.60" height="2.60" fill="#440154" fill-opacity="0.75" stroke="none"/><path d="M413.15 111.08l1.70 1.70m0 -1.70l-1.70 1.70" stroke="#440154"/><rect x="412.70" y="105.15" width="2.60" height="2.60" fill="#440154" fill-opacity="0.75" stroke="none"/><path d="M413.15 105.60l1.70 1.70m0 -1.70l-1.70 1.70" stroke="#440154"/><rect x="412.70" y="99.67" width="2.60" height="2.60" fill="#2d718e" fill-opacity="0.75" stroke="none"/><path d="M413.15 100.12l1.70 1.70m0 -1.70l-1.70 1.70" stroke="#2d718e"/><rect x="412.70" y="94.19" width="2.60" height="2.60" fill="#2d718e" fill-opacity="0.75" stroke="none"/><path d="M413.15 94.64l1.70 1.70m0 -1.70l-1.70 1.70" stroke="#2d718e"/><rect x="412.70" y="88.71" width="2.60" height="2.60" fill="#2d718e" fill-opacity="0.75" stroke="none"/><path d="M413.15 89.16l1.70 1.70m0 -1.70l-1.70 1.70" stroke="#2d718e"/><rect x="412.70" y="83.24" width="2.60" height="2.60" fill="#2d718e" fill-opacity="0.75" stroke="none"/><path d="M413.15 83.69l1.70 1.70m0 -1.70l-1.70 1.70" stroke="#2d718e"/><rect x="412.70" y="50.37" width="2.60" height="2.60" fill="#75d054" fill-opacity="0.75" stroke="none"/><path d="M413.15 50.82l1.70 1.70m0 -1.70l-1.70 1.70" stroke="#75d054"/><rect x="412.70" y="44.89" width="2.60" height="2.60" fill="#75d054" fill-opacity="0.75" stroke="none"/><path d="M413.15 45.34l1.70 1.70m0 -1.70l-1.70 1.70" stroke="#75d054"/><rect x="412.70" y="39.41" width="2.60" height="2.60" fill="#75d054" fill-opacity="0.75" stroke="none"/><path d="M413.15 39.86l1.70 1.70m0 -1.70l-1.70 1.70" stroke="#75d054"/><rect x="412.70" y="28.46" width="2.60" height="2.60" fill="#75d054" fill-opacity="0.75" stroke="none"/><path d="M413.15 28.91l1.70 1.70m0 -1.70l-1.70 1.70" stroke="#75d054"/><rect x="427.45" y="214.71" width="2.60" height="2.60" fill="#39558c" fill-opacity="0.75" stroke="none"/><path d="M427.90 215.16l1.70 1.70m0 -1.70l-1.70 1.70" stroke="#39558c"/><rect x="427.45" y="209.23" width="2.60" height="2.60" fill="#39558c" fill-opacity="0.75" stroke="none"/><path d="M427.90 209.68l1.70 1.70m0 -1.70l-1.70 1.70" stroke="#39558c"/><rect x="427.45" y="192.80" width="2.60" height="2.60" fill="#bade28" fill-opacity="0.75" stroke="none"/><path d="M427.90 193.25l1.70 1.70m0 -1.70l-1.70 1.70" stroke="#bade28"/><rect x="427.45" y="165.41" width="2.60" height="2.60" fill="#1f968b" fill-opacity="0.75" stroke="none"/><path d="M427.90 165.86l1.70 1.70m0 -1.70l-1.70 1.70" stroke="#1f968b"/><rect x="427.45" y="159.93" width="2.60" height="2.60" fill="#1f968b" fill-opacity="0.75" stroke="none"/><path d="M427.90 160.38l1.70 1.70m0 -1.70l-1.70 1.70" stroke="#1f968b"/><rect x="427.45" y="143.49" width="2.60" height="2.60" fill="#1f968b" fill-opacity="0.75" stroke="none"/><path d="M427.90 143.94l1.70 1.70m0 -1.70l-1.70 1.70" stroke="#1f968b"/><rect x="427.45" y="94.19" width="2.60" height="2.60" fill="#2d718e" fill-opacity="0.75" stroke="none"/><path d="M427.90 94.64l1.70 1.70m0 -1.70l-1.70 1.70" stroke="#2d718e"/><rect x="427.45" y="88.71" width="2.60" height="2.60" fill="#2d718e" fill-opacity="0.75" stroke="none"/><path d="M427.90 89.16l1.70 1.70m0 -1.70l-1.70 1.70" stroke="#2d718e"/><rect x="427.45" y="83.24" width="2.60" height="2.60" fill="#2d718e" fill-opacity="0.75" stroke="none"/><path d="M427.90 83.69l1.70 1.70m0 -1.70l-1.70 1.70" stroke="#2d718e"/><rect x="427.45" y="72.28" width="2.60" height="2.60" fill="#2d718e" fill-opacity="0.75" stroke="none"/><path d="M427.90 72.73l1.70 1.70m0 -1.70l-1.70 1.70" stroke="#2d718e"/><rect x="427.45" y="66.80" width="2.60" height="2.60" fill="#453781" fill-opacity="0.75" stroke="none"/><path d="M427.90 67.25l1.70 1.70m0 -1.70l-1.70 1.70" stroke="#453781"/><rect x="427.45" y="39.41" width="2.60" height="2.60" fill="#75d054" fill-opacity="0.75" stroke="none"/><path d="M427.90 39.86l1.70 1.70m0 -1.70l-1.70 1.70" stroke="#75d054"/><rect x="442.20" y="220.19" width="2.60" height="2.60" fill="#39558c" fill-opacity="0.75" stroke="none"/><path d="M442.65 220.64l1.70 1.70m0 -1.70l-1.70 1.70" stroke="#39558c"/><rect x="442.20" y="198.27" width="2.60" height="2.60" fill="#56c667" fill-opacity="0.75" stroke="none"/><path d="M442.65 198.72l1.70 1.70m0 -1.70l-1.70 1.70" stroke="#56c667"/><rect x="442.20" y="187.32" width="2.60" height="2.60" fill="#bade28" fill-opacity="0.75" stroke="none"/><path d="M442.65 187.77l1.70 1.70m0 -1.70l-1.70 1.70" stroke="#bade28"/><rect x="442.20" y="170.88" width="2.60" height="2.60" fill="#bade28" fill-opacity="0.75" stroke="none"/><path d="M442.65 171.33l1.70 1.70m0 -1.70l-1.70 1.70" stroke="#bade28"/><rect x="442.20" y="159.93" width="2.60" height="2.60" fill="#1f968b" fill-opacity="0.75" stroke="none"/><path d="M442.65 160.38l1.70 1.70m0 -1.70l-1.70 1.70" stroke="#1f968b"/><rect x="442.20" y="148.97" width="2.60" height="2.60" fill="#1f968b" fill-opacity="0.75" stroke="none"/><path d="M442.65 149.42l1.70 1.70m0 -1.70l-1.70 1.70" stroke="#1f968b"/><rect x="442.20" y="143.49" width="2.60" height="2.60" fill="#1f968b" fill-opacity="0.75" stroke="none"/><path d="M442.65 143.94l1.70 1.70m0 -1.70l-1.70 1.70" stroke="#1f968b"/><rect x="442.20" y="138.02" width="2.60" height="2.60" fill="#287d8e" fill-opacity="0.75" stroke="none"/><path d="M442.65 138.47l1.70 1.70m0 -1.70l-1.70 1.70" stroke="#287d8e"/><rect x="442.20" y="99.67" width="2.60" height="2.60" fill="#2d718e" fill-opacity="0.75" stroke="none"/><path d="M442.65 100.12l1.70 1.70m0 -1.70l-1.70 1.70" stroke="#2d718e"/><rect x="442.20" y="94.19" width="2.60" height="2.60" fill="#2d718e" fill-opacity="0.75" stroke="none"/><path d="M442.65 94.64l1.70 1.70m0 -1.70l-1.70 1.70" stroke="#2d718e"/><rect x="442.20" y="77.76" width="2.60" height="2.60" fill="#2d718e" fill-opacity="0.75" stroke="none"/><path d="M442.65 78.21l1.70 1.70m0 -1.70l-1.70 1.70" stroke="#2d718e"/><rect x="442.20" y="61.32" width="2.60" height="2.60" fill="#453781" fill-opacity="0.75" stroke="none"/><path d="M442.65 61.77l1.70 1.70m0 -1.70l-1.70 1.70" stroke="#453781"/><rect x="442.20" y="50.37" width="2.60" height="2.60" fill="#453781" fill-opacity="0.75" stroke="none"/><path d="M442.65 50.82l1.70 1.70m0 -1.70l-1.70 1.70" stroke="#453781"/><rect x="442.20" y="33.93" width="2.60" height="2.60" fill="#75d054" fill-opacity="0.75" stroke="none"/><path d="M442.65 34.38l1.70 1.70m0 -1.70l-1.70 1.70" stroke="#75d054"/><rect x="456.95" y="225.66" width="2.60" height="2.60" fill="#39558c" fill-opacity="0.75" stroke="none"/><path d="M457.40 226.11l1.70 1.70m0 -1.70l-1.70 1.70" stroke="#39558c"/><rect x="456.95" y="220.19" width="2.60" height="2.60" fill="#39558c" fill-opacity="0.75" stroke="none"/><path d="M457.40 220.64l1.70 1.70m0 -1.70l-1.70 1.70" stroke="#39558c"/><rect x="456.95" y="214.71" width="2.60" height="2.60" fill="#39558c" fill-opacity="0.75" stroke="none"/><path d="M457.40 215.16l1.70 1.70m0 -1.70l-1.70 1.70" stroke="#39558c"/><rect x="456.95" y="198.27" width="2.60" height="2.60" fill="#56c667" fill-opacity="0.75" stroke="none"/><path d="M457.40 198.72l1.70 1.70m0 -1.70l-1.70 1.70" stroke="#56c667"/><rect x="456.95" y="192.80" width="2.60" height="2.60" fill="#56c667" fill-opacity="0.75" stroke="none"/><path d="M457.40 193.25l1.70 1.70m0 -1.70l-1.70 1.70" stroke="#56c667"/><rect x="456.95" y="170.88" width="2.60" height="2.60" fill="#bade28" fill-opacity="0.75" stroke="none"/><path d="M457.40 171.33l1.70 1.70m0 -1.70l-1.70 1.70" stroke="#bade28"/><rect x="456.95" y="165.41" width="2.60" height="2.60" fill="#1f968b" fill-opacity="0.75" stroke="none"/><path d="M457.40 165.86l1.70 1.70m0 -1.70l-1.70 1.70" stroke="#1f968b"/><rect x="456.95" y="143.49" width="2.60" height="2.60" fill="#287d8e" fill-opacity="0.75" stroke="none"/><path d="M457.40 143.94l1.70 1.70m0 -1.70l-1.70 1.70" stroke="#287d8e"/><rect x="456.95" y="121.58" width="2.60" height="2.60" fill="#440154" fill-opacity="0.75" stroke="none"/><path d="M457.40 122.03l1.70 1.70m0 -1.70l-1.70 1.70" stroke="#440154"/><rect x="456.95" y="72.28" width="2.60" height="2.60" fill="#453781" fill-opacity="0.75" stroke="none"/><path d="M457.40 72.73l1.70 1.70m0 -1.70l-1.70 1.70" stroke="#453781"/><rect x="456.95" y="61.32" width="2.60" height="2.60" fill="#453781" fill-opacity="0.75" stroke="none"/><path d="M457.40 61.77l1.70 1.70m0 -1.70l-1.70 1.70" stroke="#453781"/><rect x="456.95" y="55.85" width="2.60" height="2.60" fill="#453781" fill-opacity="0.75" stroke="none"/><path d="M457.40 56.30l1.70 1.70m0 -1.70l-1.70 1.70" stroke="#453781"/><rect x="456.95" y="22.98" width="2.60" height="2.60" fill="#29af7f" fill-opacity="0.75" stroke="none"/><path d="M457.40 23.43l1.70 1.70m0 -1.70l-1.70 1.70" stroke="#29af7f"/><rect x="471.70" y="236.62" width="2.60" height="2.60" fill="#39558c" fill-opacity="0.75" stroke="none"/><path d="M472.15 237.07l1.70 1.70m0 -1.70l-1.70 1.70" stroke="#39558c"/><rect x="471.70" y="214.71" width="2.60" height="2.60" fill="#39558c" fill-opacity="0.75" stroke="none"/><path d="M472.15 215.16l1.70 1.70m0 -1.70l-1.70 1.70" stroke="#39558c"/><rect x="471.70" y="203.75" width="2.60" height="2.60" fill="#56c667" fill-opacity="0.75" stroke="none"/><path d="M472.15 204.20l1.70 1.70m0 -1.70l-1.70 1.70" stroke="#56c667"/><rect x="471.70" y="187.32" width="2.60" height="2.60" fill="#56c667" fill-opacity="0.75" stroke="none"/><path d="M472.15 187.77l1.70 1.70m0 -1.70l-1.70 1.70" stroke="#56c667"/><rect x="471.70" y="176.36" width="2.60" height="2.60" fill="#56c667" fill-opacity="0.75" stroke="none"/><path d="M472.15 176.81l1.70 1.70m0 -1.70l-1.70 1.70" stroke="#56c667"/><rect x="471.70" y="165.41" width="2.60" height="2.60" fill="#404688" fill-opacity="0.75" stroke="none"/><path d="M472.15 165.86l1.70 1.70m0 -1.70l-1.70 1.70" stroke="#404688"/><rect x="471.70" y="159.93" width="2.60" height="2.60" fill="#287d8e" fill-opacity="0.75" stroke="none"/><path d="M472.15 160.38l1.70 1.70m0 -1.70l-1.70 1.70" stroke="#287d8e"/><rect x="471.70" y="154.45" width="2.60" height="2.60" fill="#287d8e" fill-opacity="0.75" stroke="none"/><path d="M472.15 154.90l1.70 1.70m0 -1.70l-1.70 1.70" stroke="#287d8e"/><rect x="471.70" y="143.49" width="2.60" height="2.60" fill="#287d8e" fill-opacity="0.75" stroke="none"/><path d="M472.15 143.94l1.70 1.70m0 -1.70l-1.70 1.70" stroke="#287d8e"/><rect x="471.70" y="138.02" width="2.60" height="2.60" fill="#287d8e" fill-opacity="0.75" stroke="none"/><path d="M472.15 138.47l1.70 1.70m0 -1.70l-1.70 1.70" stroke="#287d8e"/><rect x="471.70" y="127.06" width="2.60" height="2.60" fill="#287d8e" fill-opacity="0.75" stroke="none"/><path d="M472.15 127.51l1.70 1.70m0 -1.70l-1.70 1.70" stroke="#287d8e"/><rect x="471.70" y="116.10" width="2.60" height="2.60" fill="#dde318" fill-opacity="0.75" stroke="none"/><path d="M472.15 116.55l1.70 1.70m0 -1.70l-1.70 1.70" stroke="#dde318"/><rect x="471.70" y="88.71" width="2.60" height="2.60" fill="#2d718e" fill-opacity="0.75" stroke="none"/><path d="M472.15 89.16l1.70 1.70m0 -1.70l-1.70 1.70" stroke="#2d718e"/><rect x="471.70" y="83.24" width="2.60" height="2.60" fill="#2d718e" fill-opacity="0.75" stroke="none"/><path d="M472.15 83.69l1.70 1.70m0 -1.70l-1.70 1.70" stroke="#2d718e"/><rect x="471.70" y="66.80" width="2.60" height="2.60" fill="#453781" fill-opacity="0.75" stroke="none"/><path d="M472.15 67.25l1.70 1.70m0 -1.70l-1.70 1.70" stroke="#453781"/><rect x="471.70" y="61.32" width="2.60" height="2.60" fill="#453781" fill-opacity="0.75" stroke="none"/><path d="M472.15 61.77l1.70 1.70m0 -1.70l-1.70 1.70" stroke="#453781"/><rect x="471.70" y="55.85" width="2.60" height="2.60" fill="#453781" fill-opacity="0.75" stroke="none"/><path d="M472.15 56.30l1.70 1.70m0 -1.70l-1.70 1.70" stroke="#453781"/><rect x="471.70" y="50.37" width="2.60" height="2.60" fill="#453781" fill-opacity="0.75" stroke="none"/><path d="M472.15 50.82l1.70 1.70m0 -1.70l-1.70 1.70" stroke="#453781"/><rect x="471.70" y="44.89" width="2.60" height="2.60" fill="#29af7f" fill-opacity="0.75" stroke="none"/><path d="M472.15 45.34l1.70 1.70m0 -1.70l-1.70 1.70" stroke="#29af7f"/><rect x="471.70" y="39.41" width="2.60" height="2.60" fill="#29af7f" fill-opacity="0.75" stroke="none"/><path d="M472.15 39.86l1.70 1.70m0 -1.70l-1.70 1.70" stroke="#29af7f"/><rect x="471.70" y="28.46" width="2.60" height="2.60" fill="#29af7f" fill-opacity="0.75" stroke="none"/><path d="M472.15 28.91l1.70 1.70m0 -1.70l-1.70 1.70" stroke="#29af7f"/><rect x="486.45" y="209.23" width="2.60" height="2.60" fill="#56c667" fill-opacity="0.75" stroke="none"/><path d="M486.90 209.68l1.70 1.70m0 -1.70l-1.70 1.70" stroke="#56c667"/><rect x="486.45" y="198.27" width="2.60" height="2.60" fill="#56c667" fill-opacity="0.75" stroke="none"/><path d="M486.90 198.72l1.70 1.70m0 -1.70l-1.70 1.70" stroke="#56c667"/><rect x="486.45" y="176.36" width="2.60" height="2.60" fill="#56c667" fill-opacity="0.75" stroke="none"/><path d="M486.90 176.81l1.70 1.70m0 -1.70l-1.70 1.70" stroke="#56c667"/><rect x="486.45" y="138.02" width="2.60" height="2.60" fill="#287d8e" fill-opacity="0.75" stroke="none"/><path d="M486.90 138.47l1.70 1.70m0 -1.70l-1.70 1.70" stroke="#287d8e"/><rect x="486.45" y="110.63" width="2.60" height="2.60" fill="#dde318" fill-opacity="0.75" stroke="none"/><path d="M486.90 111.08l1.70 1.70m0 -1.70l-1.70 1.70" stroke="#dde318"/><rect x="486.45" y="61.32" width="2.60" height="2.60" fill="#453781" fill-opacity="0.75" stroke="none"/><path d="M486.90 61.77l1.70 1.70m0 -1.70l-1.70 1.70" stroke="#453781"/><rect x="486.45" y="55.85" width="2.60" height="2.60" fill="#453781" fill-opacity="0.75" stroke="none"/><path d="M486.90 56.30l1.70 1.70m0 -1.70l-1.70 1.70" stroke="#453781"/><rect x="486.45" y="22.98" width="2.60" height="2.60" fill="#29af7f" fill-opacity="0.75" stroke="none"/><path d="M486.90 23.43l1.70 1.70m0 -1.70l-1.70 1.70" stroke="#29af7f"/><rect x="501.20" y="231.14" width="2.60" height="2.60" fill="#fde725" fill-opacity="0.75" stroke="none"/><path d="M501.65 231.59l1.70 1.70m0 -1.70l-1.70 1.70" stroke="#fde725"/><rect x="501.20" y="220.19" width="2.60" height="2.60" fill="#fde725" fill-opacity="0.75" stroke="none"/><path d="M501.65 220.64l1.70 1.70m0 -1.70l-1.70 1.70" stroke="#fde725"/><rect x="501.20" y="187.32" width="2.60" height="2.60" fill="#56c667" fill-opacity="0.75" stroke="none"/><path d="M501.65 187.77l1.70 1.70m0 -1.70l-1.70 1.70" stroke="#56c667"/><rect x="501.20" y="176.36" width="2.60" height="2.60" fill="#404688" fill-opacity="0.75" stroke="none"/><path d="M501.65 176.81l1.70 1.70m0 -1.70l-1.70 1.70" stroke="#404688"/><rect x="501.20" y="170.88" width="2.60" height="2.60" fill="#404688" fill-opacity="0.75" stroke="none"/><path d="M501.65 171.33l1.70 1.70m0 -1.70l-1.70 1.70" stroke="#404688"/><rect x="501.20" y="165.41" width="2.60" height="2.60" fill="#404688" fill-opacity="0.75" stroke="none"/><path d="M501.65 165.86l1.70 1.70m0 -1.70l-1.70 1.70" stroke="#404688"/><rect x="501.20" y="159.93" width="2.60" height="2.60" fill="#404688" fill-opacity="0.75" stroke="none"/><path d="M501.65 160.38l1.70 1.70m0 -1.70l-1.70 1.70" stroke="#404688"/><rect x="501.20" y="154.45" width="2.60" height="2.60" fill="#287d8e" fill-opacity="0.75" stroke="none"/><path d="M501.65 154.90l1.70 1.70m0 -1.70l-1.70 1.70" stroke="#287d8e"/><rect x="501.20" y="148.97" width="2.60" height="2.60" fill="#287d8e" fill-opacity="0.75" stroke="none"/><path d="M501.65 149.42l1.70 1.70m0 -1.70l-1.70 1.70" stroke="#287d8e"/><rect x="501.20" y="143.49" width="2.60" height="2.60" fill="#287d8e" fill-opacity="0.75" stroke="none"/><path d="M501.65 143.94l1.70 1.70m0 -1.70l-1.70 1.70" stroke="#287d8e"/><rect x="501.20" y="138.02" width="2.60" height="2.60" fill="#287d8e" fill-opacity="0.75" stroke="none"/><path d="M501.65 138.47l1.70 1.70m0 -1.70l-1.70 1.70" stroke="#287d8e"/><rect x="501.20" y="132.54" width="2.60" height="2.60" fill="#287d8e" fill-opacity="0.75" stroke="none"/><path d="M501.65 132.99l1.70 1.70m0 -1.70l-1.70 1.70" stroke="#287d8e"/><rect x="501.20" y="121.58" width="2.60" height="2.60" fill="#dde318" fill-opacity="0.75" stroke="none"/><path d="M501.65 122.03l1.70 1.70m0 -1.70l-1.70 1.70" stroke="#dde318"/><rect x="501.20" y="110.63" width="2.60" height="2.60" fill="#dde318" fill-opacity="0.75" stroke="none"/><path d="M501.65 111.08l1.70 1.70m0 -1.70l-1.70 1.70" stroke="#dde318"/><rect x="501.20" y="99.67" width="2.60" height="2.60" fill="#dde318" fill-opacity="0.75" stroke="none"/><path d="M501.65 100.12l1.70 1.70m0 -1.70l-1.70 1.70" stroke="#dde318"/><rect x="501.20" y="94.19" width="2.60" height="2.60" fill="#3dbc74" fill-opacity="0.75" stroke="none"/><path d="M501.65 94.64l1.70 1.70m0 -1.70l-1.70 1.70" stroke="#3dbc74"/><rect x="501.20" y="88.71" width="2.60" height="2.60" fill="#3dbc74" fill-opacity="0.75" stroke="none"/><path d="M501.65 89.16l1.70 1.70m0 -1.70l-1.70 1.70" stroke="#3dbc74"/><rect x="501.20" y="77.76" width="2.60" height="2.60" fill="#3dbc74" fill-opacity="0.75" stroke="none"/><path d="M501.65 78.21l1.70 1.70m0 -1.70l-1.70 1.70" stroke="#3dbc74"/><rect x="501.20" y="72.28" width="2.60" height="2.60" fill="#3dbc74" fill-opacity="0.75" stroke="none"/><path d="M501.65 72.73l1.70 1.70m0 -1.70l-1.70 1.70" stroke="#3dbc74"/><rect x="501.20" y="61.32" width="2.60" height="2.60" fill="#453781" fill-opacity="0.75" stroke="none"/><path d="M501.65 61.77l1.70 1.70m0 -1.70l-1.70 1.70" stroke="#453781"/><rect x="501.20" y="44.89" width="2.60" height="2.60" fill="#29af7f" fill-opacity="0.75" stroke="none"/><path d="M501.65 45.34l1.70 1.70m0 -1.70l-1.70 1.70" stroke="#29af7f"/><rect x="501.20" y="39.41" width="2.60" height="2.60" fill="#29af7f" fill-opacity="0.75" stroke="none"/><path d="M501.65 39.86l1.70 1.70m0 -1.70l-1.70 1.70" stroke="#29af7f"/><rect x="501.20" y="33.93" width="2.60" height="2.60" fill="#29af7f" fill-opacity="0.75" stroke="none"/><path d="M501.65 34.38l1.70 1.70m0 -1.70l-1.70 1.70" stroke="#29af7f"/><rect x="515.95" y="236.62" width="2.60" height="2.60" fill="#fde725" fill-opacity="0.75" stroke="none"/><path d="M516.40 237.07l1.70 1.70m0 -1.70l-1.70 1.70" stroke="#fde725"/><rect x="515.95" y="214.71" width="2.60" height="2.60" fill="#fde725" fill-opacity="0.75" stroke="none"/><path d="M516.40 215.16l1.70 1.70m0 -1.70l-1.70 1.70" stroke="#fde725"/><rect x="515.95" y="187.32" width="2.60" height="2.60" fill="#56c667" fill-opacity="0.75" stroke="none"/><path d="M516.40 187.77l1.70 1.70m0 -1.70l-1.70 1.70" stroke="#56c667"/><rect x="515.95" y="181.84" width="2.60" height="2.60" fill="#404688" fill-opacity="0.75" stroke="none"/><path d="M516.40 182.29l1.70 1.70m0 -1.70l-1.70 1.70" stroke="#404688"/><rect x="515.95" y="176.36" width="2.60" height="2.60" fill="#404688" fill-opacity="0.75" stroke="none"/><path d="M516.40 176.81l1.70 1.70m0 -1.70l-1.70 1.70" stroke="#404688"/><rect x="515.95" y="170.88" width="2.60" height="2.60" fill="#404688" fill-opacity="0.75" stroke="none"/><path d="M516.40 171.33l1.70 1.70m0 -1.70l-1.70 1.70" stroke="#404688"/><rect x="515.95" y="165.41" width="2.60" height="2.60" fill="#404688" fill-opacity="0.75" stroke="none"/><path d="M516.40 165.86l1.70 1.70m0 -1.70l-1.70 1.70" stroke="#404688"/><rect x="515.95" y="159.93" width="2.60" height="2.60" fill="#404688" fill-opacity="0.75" stroke="none"/><path d="M516.40 160.38l1.70 1.70m0 -1.70l-1.70 1.70" stroke="#404688"/><rect x="515.95" y="154.45" width="2.60" height="2.60" fill="#404688" fill-opacity="0.75" stroke="none"/><path d="M516.40 154.90l1.70 1.70m0 -1.70l-1.70 1.70" stroke="#404688"/><rect x="515.95" y="138.02" width="2.60" height="2.60" fill="#287d8e" fill-opacity="0.75" stroke="none"/><path d="M516.40 138.47l1.70 1.70m0 -1.70l-1.70 1.70" stroke="#287d8e"/><rect x="515.95" y="121.58" width="2.60" height="2.60" fill="#dde318" fill-opacity="0.75" stroke="none"/><path d="M516.40 122.03l1.70 1.70m0 -1.70l-1.70 1.70" stroke="#dde318"/><rect x="515.95" y="116.10" width="2.60" height="2.60" fill="#dde318" fill-opacity="0.75" stroke="none"/><path d="M516.40 116.55l1.70 1.70m0 -1.70l-1.70 1.70" stroke="#dde318"/><rect x="515.95" y="83.24" width="2.60" height="2.60" fill="#3dbc74" fill-opacity="0.75" stroke="none"/><path d="M516.40 83.69l1.70 1.70m0 -1.70l-1.70 1.70" stroke="#3dbc74"/><rect x="515.95" y="72.28" width="2.60" height="2.60" fill="#3dbc74" fill-opacity="0.75" stroke="none"/><path d="M516.40 72.73l1.70 1.70m0 -1.70l-1.70 1.70" stroke="#3dbc74"/><rect x="515.95" y="66.80" width="2.60" height="2.60" fill="#3dbc74" fill-opacity="0.75" stroke="none"/><path d="M516.40 67.25l1.70 1.70m0 -1.70l-1.70 1.70" stroke="#3dbc74"/><rect x="515.95" y="50.37" width="2.60" height="2.60" fill="#29af7f" fill-opacity="0.75" stroke="none"/><path d="M516.40 50.82l1.70 1.70m0 -1.70l-1.70 1.70" stroke="#29af7f"/><rect x="515.95" y="39.41" width="2.60" height="2.60" fill="#29af7f" fill-opacity="0.75" stroke="none"/><path d="M516.40 39.86l1.70 1.70m0 -1.70l-1.70 1.70" stroke="#29af7f"/><rect x="515.95" y="22.98" width="2.60" height="2.60" fill="#29af7f" fill-opacity="0.75" stroke="none"/><path d="M516.40 23.43l1.70 1.70m0 -1.70l-1.70 1.70" stroke="#29af7f"/><rect x="530.70" y="236.62" width="2.60" height="2.60" fill="#fde725" fill-opacity="0.75" stroke="none"/><path d="M531.15 237.07l1.70 1.70m0 -1.70l-1.70 1.70" stroke="#fde725"/><rect x="530.70" y="209.23" width="2.60" height="2.60" fill="#fde725" fill-opacity="0.75" stroke="none"/><path d="M531.15 209.68l1.70 1.70m0 -1.70l-1.70 1.70" stroke="#fde725"/><rect x="530.70" y="176.36" width="2.60" height="2.60" fill="#404688" fill-opacity="0.75" stroke="none"/><path d="M531.15 176.81l1.70 1.70m0 -1.70l-1.70 1.70" stroke="#404688"/><rect x="530.70" y="170.88" width="2.60" height="2.60" fill="#404688" fill-opacity="0.75" stroke="none"/><path d="M531.15 171.33l1.70 1.70m0 -1.70l-1.70 1.70" stroke="#404688"/><rect x="530.70" y="165.41" width="2.60" height="2.60" fill="#404688" fill-opacity="0.75" stroke="none"/><path d="M531.15 165.86l1.70 1.70m0 -1.70l-1.70 1.70" stroke="#404688"/><rect x="530.70" y="159.93" width="2.60" height="2.60" fill="#404688" fill-opacity="0.75" stroke="none"/><path d="M531.15 160.38l1.70 1.70m0 -1.70l-1.70 1.70" stroke="#404688"/><rect x="530.70" y="154.45" width="2.60" height="2.60" fill="#404688" fill-opacity="0.75" stroke="none"/><path d="M531.15 154.90l1.70 1.70m0 -1.70l-1.70 1.70" stroke="#404688"/><rect x="530.70" y="148.97" width="2.60" height="2.60" fill="#287d8e" fill-opacity="0.75" stroke="none"/><path d="M531.15 149.42l1.70 1.70m0 -1.70l-1.70 1.70" stroke="#287d8e"/><rect x="530.70" y="121.58" width="2.60" height="2.60" fill="#dde318" fill-opacity="0.75" stroke="none"/><path d="M531.15 122.03l1.70 1.70m0 -1.70l-1.70 1.70" stroke="#dde318"/><rect x="530.70" y="116.10" width="2.60" height="2.60" fill="#dde318" fill-opacity="0.75" stroke="none"/><path d="M531.15 116.55l1.70 1.70m0 -1.70l-1.70 1.70" stroke="#dde318"/><rect x="530.70" y="110.63" width="2.60" height="2.60" fill="#dde318" fill-opacity="0.75" stroke="none"/><path d="M531.15 111.08l1.70 1.70m0 -1.70l-1.70 1.70" stroke="#dde318"/><rect x="530.70" y="94.19" width="2.60" height="2.60" fill="#3dbc74" fill-opacity="0.75" stroke="none"/><path d="M531.15 94.64l1.70 1.70m0 -1.70l-1.70 1.70" stroke="#3dbc74"/><rect x="530.70" y="83.24" width="2.60" height="2.60" fill="#3dbc74" fill-opacity="0.75" stroke="none"/><path d="M531.15 83.69l1.70 1.70m0 -1.70l-1.70 1.70" stroke="#3dbc74"/><rect x="530.70" y="66.80" width="2.60" height="2.60" fill="#3dbc74" fill-opacity="0.75" stroke="none"/><path d="M531.15 67.25l1.70 1.70m0 -1.70l-1.70 1.70" stroke="#3dbc74"/><rect x="530.70" y="61.32" width="2.60" height="2.60" fill="#3dbc74" fill-opacity="0.75" stroke="none"/><path d="M531.15 61.77l1.70 1.70m0 -1.70l-1.70 1.70" stroke="#3dbc74"/><rect x="530.70" y="50.37" width="2.60" height="2.60" fill="#29af7f" fill-opacity="0.75" stroke="none"/><path d="M531.15 50.82l1.70 1.70m0 -1.70l-1.70 1.70" stroke="#29af7f"/><rect x="530.70" y="33.93" width="2.60" height="2.60" fill="#29af7f" fill-opacity="0.75" stroke="none"/><path d="M531.15 34.38l1.70 1.70m0 -1.70l-1.70 1.70" stroke="#29af7f"/><rect x="545.45" y="225.66" width="2.60" height="2.60" fill="#fde725" fill-opacity="0.75" stroke="none"/><path d="M545.90 226.11l1.70 1.70m0 -1.70l-1.70 1.70" stroke="#fde725"/><rect x="545.45" y="220.19" width="2.60" height="2.60" fill="#fde725" fill-opacity="0.75" stroke="none"/><path d="M545.90 220.64l1.70 1.70m0 -1.70l-1.70 1.70" stroke="#fde725"/><rect x="545.45" y="214.71" width="2.60" height="2.60" fill="#fde725" fill-opacity="0.75" stroke="none"/><path d="M545.90 215.16l1.70 1.70m0 -1.70l-1.70 1.70" stroke="#fde725"/><rect x="545.45" y="181.84" width="2.60" height="2.60" fill="#404688" fill-opacity="0.75" stroke="none"/><path d="M545.90 182.29l1.70 1.70m0 -1.70l-1.70 1.70" stroke="#404688"/><rect x="545.45" y="165.41" width="2.60" height="2.60" fill="#404688" fill-opacity="0.75" stroke="none"/><path d="M545.90 165.86l1.70 1.70m0 -1.70l-1.70 1.70" stroke="#404688"/><rect x="545.45" y="154.45" width="2.60" height="2.60" fill="#404688" fill-opacity="0.75" stroke="none"/><path d="M545.90 154.90l1.70 1.70m0 -1.70l-1.70 1.70" stroke="#404688"/><rect x="545.45" y="127.06" width="2.60" height="2.60" fill="#dde318" fill-opacity="0.75" stroke="none"/><path d="M545.90 127.51l1.70 1.70m0 -1.70l-1.70 1.70" stroke="#dde318"/><rect x="545.45" y="105.15" width="2.60" height="2.60" fill="#dde318" fill-opacity="0.75" stroke="none"/><path d="M545.90 105.60l1.70 1.70m0 -1.70l-1.70 1.70" stroke="#dde318"/><rect x="545.45" y="88.71" width="2.60" height="2.60" fill="#3dbc74" fill-opacity="0.75" stroke="none"/><path d="M545.90 89.16l1.70 1.70m0 -1.70l-1.70 1.70" stroke="#3dbc74"/><rect x="545.45" y="83.24" width="2.60" height="2.60" fill="#3dbc74" fill-opacity="0.75" stroke="none"/><path d="M545.90 83.69l1.70 1.70m0 -1.70l-1.70 1.70" stroke="#3dbc74"/><rect x="545.45" y="72.28" width="2.60" height="2.60" fill="#3dbc74" fill-opacity="0.75" stroke="none"/><path d="M545.90 72.73l1.70 1.70m0 -1.70l-1.70 1.70" stroke="#3dbc74"/><rect x="545.45" y="39.41" width="2.60" height="2.60" fill="#29af7f" fill-opacity="0.75" stroke="none"/><path d="M545.90 39.86l1.70 1.70m0 -1.70l-1.70 1.70" stroke="#29af7f"/><rect x="545.45" y="33.93" width="2.60" height="2.60" fill="#29af7f" fill-opacity="0.75" stroke="none"/><path d="M545.90 34.38l1.70 1.70m0 -1.70l-1.70 1.70" stroke="#29af7f"/><rect x="560.20" y="236.62" width="2.60" height="2.60" fill="#fde725" fill-opacity="0.75" stroke="none"/><path d="M560.65 237.07l1.70 1.70m0 -1.70l-1.70 1.70" stroke="#fde725"/><rect x="560.20" y="231.14" width="2.60" height="2.60" fill="#fde725" fill-opacity="0.75" stroke="none"/><path d="M560.65 231.59l1.70 1.70m0 -1.70l-1.70 1.70" stroke="#fde725"/><rect x="560.20" y="214.71" width="2.60" height="2.60" fill="#fde725" fill-opacity="0.75" stroke="none"/><path d="M560.65 215.16l1.70 1.70m0 -1.70l-1.70 1.70" stroke="#fde725"/><rect x="560.20" y="192.80" width="2.60" height="2.60" fill="#238a8d" fill-opacity="0.75" stroke="none"/><path d="M560.65 193.25l1.70 1.70m0 -1.70l-1.70 1.70" stroke="#238a8d"/><rect x="560.20" y="170.88" width="2.60" height="2.60" fill="#404688" fill-opacity="0.75" stroke="none"/><path d="M560.65 171.33l1.70 1.70m0 -1.70l-1.70 1.70" stroke="#404688"/><rect x="560.20" y="165.41" width="2.60" height="2.60" fill="#404688" fill-opacity="0.75" stroke="none"/><path d="M560.65 165.86l1.70 1.70m0 -1.70l-1.70 1.70" stroke="#404688"/><rect x="560.20" y="159.93" width="2.60" height="2.60" fill="#404688" fill-opacity="0.75" stroke="none"/><path d="M560.65 160.38l1.70 1.70m0 -1.70l-1.70 1.70" stroke="#404688"/><rect x="560.20" y="154.45" width="2.60" height="2.60" fill="#404688" fill-opacity="0.75" stroke="none"/><path d="M560.65 154.90l1.70 1.70m0 -1.70l-1.70 1.70" stroke="#404688"/><rect x="560.20" y="148.97" width="2.60" height="2.60" fill="#404688" fill-opacity="0.75" stroke="none"/><path d="M560.65 149.42l1.70 1.70m0 -1.70l-1.70 1.70" stroke="#404688"/><rect x="560.20" y="94.19" width="2.60" height="2.60" fill="#3dbc74" fill-opacity="0.75" stroke="none"/><path d="M560.65 94.64l1.70 1.70m0 -1.70l-1.70 1.70" stroke="#3dbc74"/><rect x="560.20" y="88.71" width="2.60" height="2.60" fill="#3dbc74" fill-opacity="0.75" stroke="none"/><path d="M560.65 89.16l1.70 1.70m0 -1.70l-1.70 1.70" stroke="#3dbc74"/><rect x="560.20" y="66.80" width="2.60" height="2.60" fill="#3dbc74" fill-opacity="0.75" stroke="none"/><path d="M560.65 67.25l1.70 1.70m0 -1.70l-1.70 1.70" stroke="#3dbc74"/><rect x="574.95" y="231.14" width="2.60" height="2.60" fill="#fde725" fill-opacity="0.75" stroke="none"/><path d="M575.40 231.59l1.70 1.70m0 -1.70l-1.70 1.70" stroke="#fde725"/><rect x="574.95" y="225.66" width="2.60" height="2.60" fill="#fde725" fill-opacity="0.75" stroke="none"/><path d="M575.40 226.11l1.70 1.70m0 -1.70l-1.70 1.70" stroke="#fde725"/><rect x="574.95" y="214.71" width="2.60" height="2.60" fill="#fde725" fill-opacity="0.75" stroke="none"/><path d="M575.40 215.16l1.70 1.70m0 -1.70l-1.70 1.70" stroke="#fde725"/><rect x="574.95" y="209.23" width="2.60" height="2.60" fill="#fde725" fill-opacity="0.75" stroke="none"/><path d="M575.40 209.68l1.70 1.70m0 -1.70l-1.70 1.70" stroke="#fde725"/><rect x="574.95" y="203.75" width="2.60" height="2.60" fill="#fde725" fill-opacity="0.75" stroke="none"/><path d="M575.40 204.20l1.70 1.70m0 -1.70l-1.70 1.70" stroke="#fde725"/><rect x="574.95" y="198.27" width="2.60" height="2.60" fill="#238a8d" fill-opacity="0.75" stroke="none"/><path d="M575.40 198.72l1.70 1.70m0 -1.70l-1.70 1.70" stroke="#238a8d"/><rect x="574.95" y="181.84" width="2.60" height="2.60" fill="#238a8d" fill-opacity="0.75" stroke="none"/><path d="M575.40 182.29l1.70 1.70m0 -1.70l-1.70 1.70" stroke="#238a8d"/><rect x="574.95" y="176.36" width="2.60" height="2.60" fill="#404688" fill-opacity="0.75" stroke="none"/><path d="M575.40 176.81l1.70 1.70m0 -1.70l-1.70 1.70" stroke="#404688"/><rect x="574.95" y="143.49" width="2.60" height="2.60" fill="#20a386" fill-opacity="0.75" stroke="none"/><path d="M575.40 143.94l1.70 1.70m0 -1.70l-1.70 1.70" stroke="#20a386"/><rect x="574.95" y="88.71" width="2.60" height="2.60" fill="#3dbc74" fill-opacity="0.75" stroke="none"/><path d="M575.40 89.16l1.70 1.70m0 -1.70l-1.70 1.70" stroke="#3dbc74"/><rect x="574.95" y="72.28" width="2.60" height="2.60" fill="#3dbc74" fill-opacity="0.75" stroke="none"/><path d="M575.40 72.73l1.70 1.70m0 -1.70l-1.70 1.70" stroke="#3dbc74"/><rect x="574.95" y="66.80" width="2.60" height="2.60" fill="#482576" fill-opacity="0.75" stroke="none"/><path d="M575.40 67.25l1.70 1.70m0 -1.70l-1.70 1.70" stroke="#482576"/><rect x="574.95" y="44.89" width="2.60" height="2.60" fill="#95d840" fill-opacity="0.75" stroke="none"/><path d="M575.40 45.34l1.70 1.70m0 -1.70l-1.70 1.70" stroke="#95d840"/><rect x="589.70" y="236.62" width="2.60" height="2.60" fill="#481467" fill-opacity="0.75" stroke="none"/><path d="M590.15 237.07l1.70 1.70m0 -1.70l-1.70 1.70" stroke="#481467"/><rect x="589.70" y="220.19" width="2.60" height="2.60" fill="#fde725" fill-opacity="0.75" stroke="none"/><path d="M590.15 220.64l1.70 1.70m0 -1.70l-1.70 1.70" stroke="#fde725"/><rect x="589.70" y="209.23" width="2.60" height="2.60" fill="#fde725" fill-opacity="0.75" stroke="none"/><path d="M590.15 209.68l1.70 1.70m0 -1.70l-1.70 1.70" stroke="#fde725"/><rect x="589.70" y="192.80" width="2.60" height="2.60" fill="#238a8d" fill-opacity="0.75" stroke="none"/><path d="M590.15 193.25l1.70 1.70m0 -1.70l-1.70 1.70" stroke="#238a8d"/><rect x="589.70" y="181.84" width="2.60" height="2.60" fill="#238a8d" fill-opacity="0.75" stroke="none"/><path d="M590.15 182.29l1.70 1.70m0 -1.70l-1.70 1.70" stroke="#238a8d"/><rect x="589.70" y="176.36" width="2.60" height="2.60" fill="#238a8d" fill-opacity="0.75" stroke="none"/><path d="M590.15 176.81l1.70 1.70m0 -1.70l-1.70 1.70" stroke="#238a8d"/><rect x="589.70" y="165.41" width="2.60" height="2.60" fill="#20a386" fill-opacity="0.75" stroke="none"/><path d="M590.15 165.86l1.70 1.70m0 -1.70l-1.70 1.70" stroke="#20a386"/><rect x="589.70" y="154.45" width="2.60" height="2.60" fill="#20a386" fill-opacity="0.75" stroke="none"/><path d="M590.15 154.90l1.70 1.70m0 -1.70l-1.70 1.70" stroke="#20a386"/><rect x="589.70" y="143.49" width="2.60" height="2.60" fill="#20a386" fill-opacity="0.75" stroke="none"/><path d="M590.15 143.94l1.70 1.70m0 -1.70l-1.70 1.70" stroke="#20a386"/><rect x="589.70" y="138.02" width="2.60" height="2.60" fill="#20a386" fill-opacity="0.75" stroke="none"/><path d="M590.15 138.47l1.70 1.70m0 -1.70l-1.70 1.70" stroke="#20a386"/><rect x="589.70" y="94.19" width="2.60" height="2.60" fill="#33638d" fill-opacity="0.75" stroke="none"/><path d="M590.15 94.64l1.70 1.70m0 -1.70l-1.70 1.70" stroke="#33638d"/><rect x="589.70" y="88.71" width="2.60" height="2.60" fill="#3dbc74" fill-opacity="0.75" stroke="none"/><path d="M590.15 89.16l1.70 1.70m0 -1.70l-1.70 1.70" stroke="#3dbc74"/><rect x="589.70" y="77.76" width="2.60" height="2.60" fill="#482576" fill-opacity="0.75" stroke="none"/><path d="M590.15 78.21l1.70 1.70m0 -1.70l-1.70 1.70" stroke="#482576"/><rect x="589.70" y="72.28" width="2.60" height="2.60" fill="#482576" fill-opacity="0.75" stroke="none"/><path d="M590.15 72.73l1.70 1.70m0 -1.70l-1.70 1.70" stroke="#482576"/><rect x="589.70" y="66.80" width="2.60" height="2.60" fill="#482576" fill-opacity="0.75" stroke="none"/><path d="M590.15 67.25l1.70 1.70m0 -1.70l-1.70 1.70" stroke="#482576"/><rect x="589.70" y="50.37" width="2.60" height="2.60" fill="#482576" fill-opacity="0.75" stroke="none"/><path d="M590.15 50.82l1.70 1.70m0 -1.70l-1.70 1.70" stroke="#482576"/><rect x="589.70" y="44.89" width="2.60" height="2.60" fill="#95d840" fill-opacity="0.75" stroke="none"/><path d="M590.15 45.34l1.70 1.70m0 -1.70l-1.70 1.70" stroke="#95d840"/><rect x="589.70" y="39.41" width="2.60" height="2.60" fill="#95d840" fill-opacity="0.75" stroke="none"/><path d="M590.15 39.86l1.70 1.70m0 -1.70l-1.70 1.70" stroke="#95d840"/><rect x="589.70" y="22.98" width="2.60" height="2.60" fill="#95d840" fill-opacity="0.75" stroke="none"/><path d="M590.15 23.43l1.70 1.70m0 -1.70l-1.70 1.70" stroke="#95d840"/><rect x="604.45" y="236.62" width="2.60" height="2.60" fill="#481467" fill-opacity="0.75" stroke="none"/><path d="M604.90 237.07l1.70 1.70m0 -1.70l-1.70 1.70" stroke="#481467"/><rect x="604.45" y="165.41" width="2.60" height="2.60" fill="#20a386" fill-opacity="0.75" stroke="none"/><path d="M604.90 165.86l1.70 1.70m0 -1.70l-1.70 1.70" stroke="#20a386"/><rect x="604.45" y="159.93" width="2.60" height="2.60" fill="#20a386" fill-opacity="0.75" stroke="none"/><path d="M604.90 160.38l1.70 1.70m0 -1.70l-1.70 1.70" stroke="#20a386"/><rect x="604.45" y="110.63" width="2.60" height="2.60" fill="#33638d" fill-opacity="0.75" stroke="none"/><path d="M604.90 111.08l1.70 1.70m0 -1.70l-1.70 1.70" stroke="#33638d"/><rect x="604.45" y="105.15" width="2.60" height="2.60" fill="#33638d" fill-opacity="0.75" stroke="none"/><path d="M604.90 105.60l1.70 1.70m0 -1.70l-1.70 1.70" stroke="#33638d"/><rect x="604.45" y="66.80" width="2.60" height="2.60" fill="#482576" fill-opacity="0.75" stroke="none"/><path d="M604.90 67.25l1.70 1.70m0 -1.70l-1.70 1.70" stroke="#482576"/><rect x="604.45" y="61.32" width="2.60" height="2.60" fill="#482576" fill-opacity="0.75" stroke="none"/><path d="M604.90 61.77l1.70 1.70m0 -1.70l-1.70 1.70" stroke="#482576"/><rect x="604.45" y="50.37" width="2.60" height="2.60" fill="#482576" fill-opacity="0.75" stroke="none"/><path d="M604.90 50.82l1.70 1.70m0 -1.70l-1.70 1.70" stroke="#482576"/><rect x="604.45" y="44.89" width="2.60" height="2.60" fill="#95d840" fill-opacity="0.75" stroke="none"/><path d="M604.90 45.34l1.70 1.70m0 -1.70l-1.70 1.70" stroke="#95d840"/><rect x="604.45" y="28.46" width="2.60" height="2.60" fill="#95d840" fill-opacity="0.75" stroke="none"/><path d="M604.90 28.91l1.70 1.70m0 -1.70l-1.70 1.70" stroke="#95d840"/><rect x="604.45" y="22.98" width="2.60" height="2.60" fill="#95d840" fill-opacity="0.75" stroke="none"/><path d="M604.90 23.43l1.70 1.70m0 -1.70l-1.70 1.70" stroke="#95d840"/><rect x="619.20" y="236.62" width="2.60" height="2.60" fill="#481467" fill-opacity="0.75" stroke="none"/><path d="M619.65 237.07l1.70 1.70m0 -1.70l-1.70 1.70" stroke="#481467"/><rect x="619.20" y="231.14" width="2.60" height="2.60" fill="#481467" fill-opacity="0.75" stroke="none"/><path d="M619.65 231.59l1.70 1.70m0 -1.70l-1.70 1.70" stroke="#481467"/><rect x="619.20" y="225.66" width="2.60" height="2.60" fill="#481467" fill-opacity="0.75" stroke="none"/><path d="M619.65 226.11l1.70 1.70m0 -1.70l-1.70 1.70" stroke="#481467"/><rect x="619.20" y="214.71" width="2.60" height="2.60" fill="#481467" fill-opacity="0.75" stroke="none"/><path d="M619.65 215.16l1.70 1.70m0 -1.70l-1.70 1.70" stroke="#481467"/><rect x="619.20" y="209.23" width="2.60" height="2.60" fill="#481467" fill-opacity="0.75" stroke="none"/><path d="M619.65 209.68l1.70 1.70m0 -1.70l-1.70 1.70" stroke="#481467"/><rect x="619.20" y="198.27" width="2.60" height="2.60" fill="#238a8d" fill-opacity="0.75" stroke="none"/><path d="M619.65 198.72l1.70 1.70m0 -1.70l-1.70 1.70" stroke="#238a8d"/><rect x="619.20" y="192.80" width="2.60" height="2.60" fill="#238a8d" fill-opacity="0.75" stroke="none"/><path d="M619.65 193.25l1.70 1.70m0 -1.70l-1.70 1.70" stroke="#238a8d"/><rect x="619.20" y="187.32" width="2.60" height="2.60" fill="#238a8d" fill-opacity="0.75" stroke="none"/><path d="M619.65 187.77l1.70 1.70m0 -1.70l-1.70 1.70" stroke="#238a8d"/><rect x="619.20" y="170.88" width="2.60" height="2.60" fill="#238a8d" fill-opacity="0.75" stroke="none"/><path d="M619.65 171.33l1.70 1.70m0 -1.70l-1.70 1.70" stroke="#238a8d"/><rect x="619.20" y="154.45" width="2.60" height="2.60" fill="#20a386" fill-opacity="0.75" stroke="none"/><path d="M619.65 154.90l1.70 1.70m0 -1.70l-1.70 1.70" stroke="#20a386"/><rect x="619.20" y="148.97" width="2.60" height="2.60" fill="#20a386" fill-opacity="0.75" stroke="none"/><path d="M619.65 149.42l1.70 1.70m0 -1.70l-1.70 1.70" stroke="#20a386"/><rect x="619.20" y="138.02" width="2.60" height="2.60" fill="#20a386" fill-opacity="0.75" stroke="none"/><path d="M619.65 138.47l1.70 1.70m0 -1.70l-1.70 1.70" stroke="#20a386"/><rect x="619.20" y="132.54" width="2.60" height="2.60" fill="#20a386" fill-opacity="0.75" stroke="none"/><path d="M619.65 132.99l1.70 1.70m0 -1.70l-1.70 1.70" stroke="#20a386"/><rect x="619.20" y="116.10" width="2.60" height="2.60" fill="#33638d" fill-opacity="0.75" stroke="none"/><path d="M619.65 116.55l1.70 1.70m0 -1.70l-1.70 1.70" stroke="#33638d"/><rect x="619.20" y="110.63" width="2.60" height="2.60" fill="#33638d" fill-opacity="0.75" stroke="none"/><path d="M619.65 111.08l1.70 1.70m0 -1.70l-1.70 1.70" stroke="#33638d"/><rect x="619.20" y="105.15" width="2.60" height="2.60" fill="#33638d" fill-opacity="0.75" stroke="none"/><path d="M619.65 105.60l1.70 1.70m0 -1.70l-1.70 1.70" stroke="#33638d"/><rect x="619.20" y="94.19" width="2.60" height="2.60" fill="#33638d" fill-opacity="0.75" stroke="none"/><path d="M619.65 94.64l1.70 1.70m0 -1.70l-1.70 1.70" stroke="#33638d"/><rect x="619.20" y="61.32" width="2.60" height="2.60" fill="#482576" fill-opacity="0.75" stroke="none"/><path d="M619.65 61.77l1.70 1.70m0 -1.70l-1.70 1.70" stroke="#482576"/><rect x="619.20" y="44.89" width="2.60" height="2.60" fill="#95d840" fill-opacity="0.75" stroke="none"/><path d="M619.65 45.34l1.70 1.70m0 -1.70l-1.70 1.70" stroke="#95d840"/><rect x="619.20" y="22.98" width="2.60" height="2.60" fill="#95d840" fill-opacity="0.75" stroke="none"/><path d="M619.65 23.43l1.70 1.70m0 -1.70l-1.70 1.70" stroke="#95d840"/><rect x="633.95" y="236.62" width="2.60" height="2.60" fill="#481467" fill-opacity="0.75" stroke="none"/><path d="M634.40 237.07l1.70 1.70m0 -1.70l-1.70 1.70" stroke="#481467"/><rect x="633.95" y="231.14" width="2.60" height="2.60" fill="#481467" fill-opacity="0.75" stroke="none"/><path d="M634.40 231.59l1.70 1.70m0 -1.70l-1.70 1.70" stroke="#481467"/><rect x="633.95" y="225.66" width="2.60" height="2.60" fill="#481467" fill-opacity="0.75" stroke="none"/><path d="M634.40 226.11l1.70 1.70m0 -1.70l-1.70 1.70" stroke="#481467"/><rect x="633.95" y="220.19" width="2.60" height="2.60" fill="#481467" fill-opacity="0.75" stroke="none"/><path d="M634.40 220.64l1.70 1.70m0 -1.70l-1.70 1.70" stroke="#481467"/><rect x="633.95" y="203.75" width="2.60" height="2.60" fill="#238a8d" fill-opacity="0.75" stroke="none"/><path d="M634.40 204.20l1.70 1.70m0 -1.70l-1.70 1.70" stroke="#238a8d"/><rect x="633.95" y="198.27" width="2.60" height="2.60" fill="#238a8d" fill-opacity="0.75" stroke="none"/><path d="M634.40 198.72l1.70 1.70m0 -1.70l-1.70 1.70" stroke="#238a8d"/><rect x="633.95" y="192.80" width="2.60" height="2.60" fill="#238a8d" fill-opacity="0.75" stroke="none"/><path d="M634.40 193.25l1.70 1.70m0 -1.70l-1.70 1.70" stroke="#238a8d"/><rect x="633.95" y="181.84" width="2.60" height="2.60" fill="#238a8d" fill-opacity="0.75" stroke="none"/><path d="M634.40 182.29l1.70 1.70m0 -1.70l-1.70 1.70" stroke="#238a8d"/><rect x="633.95" y="127.06" width="2.60" height="2.60" fill="#33638d" fill-opacity="0.75" stroke="none"/><path d="M634.40 127.51l1.70 1.70m0 -1.70l-1.70 1.70" stroke="#33638d"/><rect x="633.95" y="110.63" width="2.60" height="2.60" fill="#33638d" fill-opacity="0.75" stroke="none"/><path d="M634.40 111.08l1.70 1.70m0 -1.70l-1.70 1.70" stroke="#33638d"/><rect x="633.95" y="61.32" width="2.60" height="2.60" fill="#482576" fill-opacity="0.75" stroke="none"/><path d="M634.40 61.77l1.70 1.70m0 -1.70l-1.70 1.70" stroke="#482576"/><rect x="633.95" y="55.85" width="2.60" height="2.60" fill="#482576" fill-opacity="0.75" stroke="none"/><path d="M634.40 56.30l1.70 1.70m0 -1.70l-1.70 1.70" stroke="#482576"/><rect x="633.95" y="33.93" width="2.60" height="2.60" fill="#95d840" fill-opacity="0.75" stroke="none"/><path d="M634.40 34.38l1.70 1.70m0 -1.70l-1.70 1.70" stroke="#95d840"/><rect x="633.95" y="28.46" width="2.60" height="2.60" fill="#95d840" fill-opacity="0.75" stroke="none"/><path d="M634.40 28.91l1.70 1.70m0 -1.70l-1.70 1.70" stroke="#95d840"/><rect x="633.95" y="22.98" width="2.60" height="2.60" fill="#95d840" fill-opacity="0.75" stroke="none"/><path d="M634.40 23.43l1.70 1.70m0 -1.70l-1.70 1.70" stroke="#95d840"/><rect x="648.70" y="231.14" width="2.60" height="2.60" fill="#481467" fill-opacity="0.75" stroke="none"/><path d="M649.15 231.59l1.70 1.70m0 -1.70l-1.70 1.70" stroke="#481467"/><rect x="648.70" y="220.19" width="2.60" height="2.60" fill="#481467" fill-opacity="0.75" stroke="none"/><path d="M649.15 220.64l1.70 1.70m0 -1.70l-1.70 1.70" stroke="#481467"/><rect x="648.70" y="214.71" width="2.60" height="2.60" fill="#481467" fill-opacity="0.75" stroke="none"/><path d="M649.15 215.16l1.70 1.70m0 -1.70l-1.70 1.70" stroke="#481467"/><rect x="648.70" y="209.23" width="2.60" height="2.60" fill="#481467" fill-opacity="0.75" stroke="none"/><path d="M649.15 209.68l1.70 1.70m0 -1.70l-1.70 1.70" stroke="#481467"/><rect x="648.70" y="203.75" width="2.60" height="2.60" fill="#238a8d" fill-opacity="0.75" stroke="none"/><path d="M649.15 204.20l1.70 1.70m0 -1.70l-1.70 1.70" stroke="#238a8d"/><rect x="648.70" y="187.32" width="2.60" height="2.60" fill="#238a8d" fill-opacity="0.75" stroke="none"/><path d="M649.15 187.77l1.70 1.70m0 -1.70l-1.70 1.70" stroke="#238a8d"/><rect x="648.70" y="181.84" width="2.60" height="2.60" fill="#238a8d" fill-opacity="0.75" stroke="none"/><path d="M649.15 182.29l1.70 1.70m0 -1.70l-1.70 1.70" stroke="#238a8d"/><rect x="648.70" y="176.36" width="2.60" height="2.60" fill="#238a8d" fill-opacity="0.75" stroke="none"/><path d="M649.15 176.81l1.70 1.70m0 -1.70l-1.70 1.70" stroke="#238a8d"/><rect x="648.70" y="165.41" width="2.60" height="2.60" fill="#20a386" fill-opacity="0.75" stroke="none"/><path d="M649.15 165.86l1.70 1.70m0 -1.70l-1.70 1.70" stroke="#20a386"/><rect x="648.70" y="143.49" width="2.60" height="2.60" fill="#20a386" fill-opacity="0.75" stroke="none"/><path d="M649.15 143.94l1.70 1.70m0 -1.70l-1.70 1.70" stroke="#20a386"/><rect x="648.70" y="138.02" width="2.60" height="2.60" fill="#20a386" fill-opacity="0.75" stroke="none"/><path d="M649.15 138.47l1.70 1.70m0 -1.70l-1.70 1.70" stroke="#20a386"/><rect x="648.70" y="127.06" width="2.60" height="2.60" fill="#33638d" fill-opacity="0.75" stroke="none"/><path d="M649.15 127.51l1.70 1.70m0 -1.70l-1.70 1.70" stroke="#33638d"/><rect x="648.70" y="110.63" width="2.60" height="2.60" fill="#33638d" fill-opacity="0.75" stroke="none"/><path d="M649.15 111.08l1.70 1.70m0 -1.70l-1.70 1.70" stroke="#33638d"/><rect x="648.70" y="99.67" width="2.60" height="2.60" fill="#33638d" fill-opacity="0.75" stroke="none"/><path d="M649.15 100.12l1.70 1.70m0 -1.70l-1.70 1.70" stroke="#33638d"/><rect x="648.70" y="88.71" width="2.60" height="2.60" fill="#33638d" fill-opacity="0.75" stroke="none"/><path d="M649.15 89.16l1.70 1.70m0 -1.70l-1.70 1.70" stroke="#33638d"/><rect x="648.70" y="72.28" width="2.60" height="2.60" fill="#482576" fill-opacity="0.75" stroke="none"/><path d="M649.15 72.73l1.70 1.70m0 -1.70l-1.70 1.70" stroke="#482576"/><rect x="648.70" y="66.80" width="2.60" height="2.60" fill="#482576" fill-opacity="0.75" stroke="none"/><path d="M649.15 67.25l1.70 1.70m0 -1.70l-1.70 1.70" stroke="#482576"/><rect x="648.70" y="55.85" width="2.60" height="2.60" fill="#482576" fill-opacity="0.75" stroke="none"/><path d="M649.15 56.30l1.70 1.70m0 -1.70l-1.70 1.70" stroke="#482576"/><rect x="648.70" y="44.89" width="2.60" height="2.60" fill="#95d840" fill-opacity="0.75" stroke="none"/><path d="M649.15 45.34l1.70 1.70m0 -1.70l-1.70 1.70" stroke="#95d840"/><rect x="648.70" y="39.41" width="2.60" height="2.60" fill="#95d840" fill-opacity="0.75" stroke="none"/><path d="M649.15 39.86l1.70 1.70m0 -1.70l-1.70 1.70" stroke="#95d840"/><rect x="663.45" y="231.14" width="2.60" height="2.60" fill="#481467" fill-opacity="0.75" stroke="none"/><path d="M663.90 231.59l1.70 1.70m0 -1.70l-1.70 1.70" stroke="#481467"/><rect x="663.45" y="225.66" width="2.60" height="2.60" fill="#481467" fill-opacity="0.75" stroke="none"/><path d="M663.90 226.11l1.70 1.70m0 -1.70l-1.70 1.70" stroke="#481467"/><rect x="663.45" y="220.19" width="2.60" height="2.60" fill="#481467" fill-opacity="0.75" stroke="none"/><path d="M663.90 220.64l1.70 1.70m0 -1.70l-1.70 1.70" stroke="#481467"/><rect x="663.45" y="214.71" width="2.60" height="2.60" fill="#481467" fill-opacity="0.75" stroke="none"/><path d="M663.90 215.16l1.70 1.70m0 -1.70l-1.70 1.70" stroke="#481467"/><rect x="663.45" y="187.32" width="2.60" height="2.60" fill="#238a8d" fill-opacity="0.75" stroke="none"/><path d="M663.90 187.77l1.70 1.70m0 -1.70l-1.70 1.70" stroke="#238a8d"/><rect x="663.45" y="181.84" width="2.60" height="2.60" fill="#238a8d" fill-opacity="0.75" stroke="none"/><path d="M663.90 182.29l1.70 1.70m0 -1.70l-1.70 1.70" stroke="#238a8d"/><rect x="663.45" y="170.88" width="2.60" height="2.60" fill="#238a8d" fill-opacity="0.75" stroke="none"/><path d="M663.90 171.33l1.70 1.70m0 -1.70l-1.70 1.70" stroke="#238a8d"/><rect x="663.45" y="165.41" width="2.60" height="2.60" fill="#20a386" fill-opacity="0.75" stroke="none"/><path d="M663.90 165.86l1.70 1.70m0 -1.70l-1.70 1.70" stroke="#20a386"/><rect x="663.45" y="159.93" width="2.60" height="2.60" fill="#20a386" fill-opacity="0.75" stroke="none"/><path d="M663.90 160.38l1.70 1.70m0 -1.70l-1.70 1.70" stroke="#20a386"/><rect x="663.45" y="154.45" width="2.60" height="2.60" fill="#20a386" fill-opacity="0.75" stroke="none"/><path d="M663.90 154.90l1.70 1.70m0 -1.70l-1.70 1.70" stroke="#20a386"/><rect x="663.45" y="148.97" width="2.60" height="2.60" fill="#20a386" fill-opacity="0.75" stroke="none"/><path d="M663.90 149.42l1.70 1.70m0 -1.70l-1.70 1.70" stroke="#20a386"/><rect x="663.45" y="143.49" width="2.60" height="2.60" fill="#20a386" fill-opacity="0.75" stroke="none"/><path d="M663.90 143.94l1.70 1.70m0 -1.70l-1.70 1.70" stroke="#20a386"/><rect x="663.45" y="121.58" width="2.60" height="2.60" fill="#33638d" fill-opacity="0.75" stroke="none"/><path d="M663.90 122.03l1.70 1.70m0 -1.70l-1.70 1.70" stroke="#33638d"/><rect x="663.45" y="99.67" width="2.60" height="2.60" fill="#33638d" fill-opacity="0.75" stroke="none"/><path d="M663.90 100.12l1.70 1.70m0 -1.70l-1.70 1.70" stroke="#33638d"/><rect x="663.45" y="88.71" width="2.60" height="2.60" fill="#33638d" fill-opacity="0.75" stroke="none"/><path d="M663.90 89.16l1.70 1.70m0 -1.70l-1.70 1.70" stroke="#33638d"/><rect x="663.45" y="72.28" width="2.60" height="2.60" fill="#482576" fill-opacity="0.75" stroke="none"/><path d="M663.90 72.73l1.70 1.70m0 -1.70l-1.70 1.70" stroke="#482576"/><rect x="574.95" y="138.02" width="2.60" height="2.60" fill="#20a386" fill-opacity="0.75" stroke="none"/><path d="M575.40 138.47l1.70 1.70m0 -1.70l-1.70 1.70" stroke="#20a386"/><rect x="442.20" y="181.84" width="2.60" height="2.60" fill="#bade28" fill-opacity="0.75" stroke="none"/><path d="M442.65 182.29l1.70 1.70m0 -1.70l-1.70 1.70" stroke="#bade28"/><rect x="397.95" y="231.14" width="2.60" height="2.60" fill="#39558c" fill-opacity="0.75" stroke="none"/><path d="M398.40 231.59l1.70 1.70m0 -1.70l-1.70 1.70" stroke="#39558c"/><rect x="412.70" y="231.14" width="2.60" height="2.60" fill="#39558c" fill-opacity="0.75" stroke="none"/><path d="M413.15 231.59l1.70 1.70m0 -1.70l-1.70 1.70" stroke="#39558c"/></g><g fill="#0000ff"><circle cx="402.3" cy="37.2" r="4"/><circle cx="465.1" cy="61.8" r="4"/><circle cx="501.2" cy="37.4" r="4"/><circle cx="615.05" cy="36.2" r="4"/><circle cx="618.4" cy="65.2" r="4"/><circle cx="425.4" cy="86.7" r="4"/><circle cx="404.3" cy="117.5" r="4"/><circle cx="539.9" cy="82.0" r="4"/><circle cx="516.3" cy="116.7" r="4"/><circle cx="637.0" cy="108.9" r="4"/><circle cx="411.6" cy="152.7" r="4"/><circle cx="488.0" cy="144.6" r="4"/><circle cx="530.3" cy="168.2" r="4"/><circle cx="626.2" cy="151.5" r="4"/><circle cx="412.2" cy="185.2" r="4"/><circle cx="428.9" cy="223.4" r="4"/><circle cx="480.5" cy="194.9" r="4"/><circle cx="554.5" cy="222.2" r="4"/><circle cx="625.2" cy="188.7" r="4"/><circle cx="636.6" cy="226.2" r="4"/></g><path d="M370.49 13.8V248.8H679.50" stroke="#444" stroke-width="0.9" fill="none" stroke-linecap="square"/><path d="M384.50 248.8v-2.6M399.25 248.8v-2.6M414.00 248.8v-2.6M428.75 248.8v-2.6M443.50 248.8v-2.6M458.25 248.8v-2.6M473.00 248.8v-2.6M487.75 248.8v-2.6M502.50 248.8v-2.6M517.25 248.8v-2.6M532.00 248.8v-2.6M546.75 248.8v-2.6M561.50 248.8v-2.6M576.25 248.8v-2.6M591.00 248.8v-2.6M605.75 248.8v-2.6M620.50 248.8v-2.6M635.25 248.8v-2.6M650.00 248.8v-2.6M664.75 248.8v-2.6M679.50 248.8v-2.6M370.49 237.92h2.4M370.49 210.53h2.4M370.49 183.14h2.4M370.49 155.75h2.4M370.49 128.36h2.4M370.49 100.97h2.4M370.49 73.58h2.4M370.49 46.19h2.4M370.49 18.80h2.4" stroke="#333" stroke-width="0.8" fill="none"/><g font-size="9.3" fill="#3a3a3a" stroke="#3a3a3a" stroke-width="0.2"><text x="384.50" y="258.2" font-size="9.9" text-anchor="middle" textLength="9.5" lengthAdjust="spacingAndGlyphs">15</text><text x="399.25" y="258.2" font-size="9.9" text-anchor="middle" textLength="9.5" lengthAdjust="spacingAndGlyphs">16</text><text x="414.00" y="258.2" font-size="9.9" text-anchor="middle" textLength="9.5" lengthAdjust="spacingAndGlyphs">17</text><text x="428.75" y="258.2" font-size="9.9" text-anchor="middle" textLength="9.5" lengthAdjust="spacingAndGlyphs">18</text><text x="443.50" y="258.2" font-size="9.9" text-anchor="middle" textLength="9.5" lengthAdjust="spacingAndGlyphs">19</text><text x="458.25" y="258.2" font-size="9.9" text-anchor="middle" textLength="9.5" lengthAdjust="spacingAndGlyphs">20</text><text x="473.00" y="258.2" font-size="9.9" text-anchor="middle" textLength="9.5" lengthAdjust="spacingAndGlyphs">21</text><text x="487.75" y="258.2" font-size="9.9" text-anchor="middle" textLength="9.5" lengthAdjust="spacingAndGlyphs">22</text><text x="502.50" y="258.2" font-size="9.9" text-anchor="middle" textLength="9.5" lengthAdjust="spacingAndGlyphs">23</text><text x="517.25" y="258.2" font-size="9.9" text-anchor="middle" textLength="9.5" lengthAdjust="spacingAndGlyphs">24</text><text x="532.00" y="258.2" font-size="9.9" text-anchor="middle" textLength="9.5" lengthAdjust="spacingAndGlyphs">25</text><text x="546.75" y="258.2" font-size="9.9" text-anchor="middle" textLength="9.5" lengthAdjust="spacingAndGlyphs">26</text><text x="561.50" y="258.2" font-size="9.9" text-anchor="middle" textLength="9.5" lengthAdjust="spacingAndGlyphs">27</text><text x="576.25" y="258.2" font-size="9.9" text-anchor="middle" textLength="9.5" lengthAdjust="spacingAndGlyphs">28</text><text x="591.00" y="258.2" font-size="9.9" text-anchor="middle" textLength="9.5" lengthAdjust="spacingAndGlyphs">29</text><text x="605.75" y="258.2" font-size="9.9" text-anchor="middle" textLength="9.5" lengthAdjust="spacingAndGlyphs">30</text><text x="620.50" y="258.2" font-size="9.9" text-anchor="middle" textLength="9.5" lengthAdjust="spacingAndGlyphs">31</text><text x="635.25" y="258.2" font-size="9.9" text-anchor="middle" textLength="9.5" lengthAdjust="spacingAndGlyphs">32</text><text x="650.00" y="258.2" font-size="9.9" text-anchor="middle" textLength="9.5" lengthAdjust="spacingAndGlyphs">33</text><text x="664.75" y="258.2" font-size="9.9" text-anchor="middle" textLength="9.5" lengthAdjust="spacingAndGlyphs">34</text><text x="679.50" y="258.2" font-size="9.9" text-anchor="middle" textLength="9.5" lengthAdjust="spacingAndGlyphs">35</text><text x="366.89" y="241.32" text-anchor="end" textLength="9.3" lengthAdjust="spacingAndGlyphs">40</text><text x="366.89" y="213.93" text-anchor="end" textLength="9.3" lengthAdjust="spacingAndGlyphs">45</text><text x="366.89" y="186.54" text-anchor="end" textLength="9.3" lengthAdjust="spacingAndGlyphs">50</text><text x="366.89" y="159.15" text-anchor="end" textLength="9.3" lengthAdjust="spacingAndGlyphs">55</text><text x="366.89" y="131.76" text-anchor="end" textLength="9.3" lengthAdjust="spacingAndGlyphs">60</text><text x="366.89" y="104.37" text-anchor="end" textLength="9.3" lengthAdjust="spacingAndGlyphs">65</text><text x="366.89" y="76.98" text-anchor="end" textLength="9.3" lengthAdjust="spacingAndGlyphs">70</text><text x="366.89" y="49.59" text-anchor="end" textLength="9.3" lengthAdjust="spacingAndGlyphs">75</text><text x="366.89" y="22.20" text-anchor="end" textLength="9.3" lengthAdjust="spacingAndGlyphs">80</text></g><rect x="374.09" y="222.4" width="78.4" height="23" rx="2" fill="#fff" fill-opacity="0.8" stroke="#d5d5d5" stroke-width="0.7"/><g stroke-width="0.9" fill="none" stroke-linecap="square"><rect x="382.29" y="227.30" width="2.60" height="2.60" fill="#3dbc74" fill-opacity="0.75" stroke="none"/><path d="M382.74 227.75l1.70 1.70m0 -1.70l-1.70 1.70" stroke="#3dbc74"/></g><circle cx="383.59" cy="239.2" r="3.9" fill="#0000ff"/><g font-size="7.8" fill="#3a3a3a"><text x="395.89" y="230.8" textLength="47" lengthAdjust="spacingAndGlyphs">Sensor points</text><text x="395.89" y="241.3" textLength="53.5" lengthAdjust="spacingAndGlyphs">Cluster Centers</text></g><g font-size="12.3" fill="#3a3a3a"><text x="50.97" y="9.95" textLength="38.72" lengthAdjust="spacingAndGlyphs">Patient</text><text x="93.48" y="9.95" textLength="70.57" lengthAdjust="spacingAndGlyphs">Temperature</text><text x="167.26" y="9.95" textLength="21.28" lengthAdjust="spacingAndGlyphs">and</text><text x="191.75" y="9.95" textLength="29.48" lengthAdjust="spacingAndGlyphs">Pulse</text><text x="224.61" y="9.95" textLength="24.99" lengthAdjust="spacingAndGlyphs">Rate</text><text x="253.50" y="9.95" textLength="5.16" lengthAdjust="spacingAndGlyphs">–</text><text x="262.30" y="9.95" textLength="6.96" lengthAdjust="spacingAndGlyphs">5</text><text x="272.90" y="9.95" textLength="34.82" lengthAdjust="spacingAndGlyphs">Nodes</text><text x="392.84" y="9.95" textLength="39.24" lengthAdjust="spacingAndGlyphs">Patient</text><text x="435.78" y="9.95" textLength="70.07" lengthAdjust="spacingAndGlyphs">Temperature</text><text x="509.14" y="9.95" textLength="21.22" lengthAdjust="spacingAndGlyphs">and</text><text x="533.76" y="9.95" textLength="29.43" lengthAdjust="spacingAndGlyphs">Pulse</text><text x="566.56" y="9.95" textLength="24.94" lengthAdjust="spacingAndGlyphs">Rate</text><text x="595.45" y="9.95" textLength="5.11" lengthAdjust="spacingAndGlyphs">–</text><text x="604.46" y="9.95" textLength="13.99" lengthAdjust="spacingAndGlyphs">20</text><text x="621.89" y="9.95" textLength="34.94" lengthAdjust="spacingAndGlyphs">Nodes</text></g><g font-size="8.6" fill="#3a3a3a"><text x="171.6" y="269" font-size="9.4" textLength="15.1" lengthAdjust="spacingAndGlyphs">Age</text><text x="517.2" y="269" font-size="9.4" textLength="15.2" lengthAdjust="spacingAndGlyphs">Age</text><text transform="translate(8.3 131) rotate(-90)" text-anchor="middle" textLength="43" lengthAdjust="spacingAndGlyphs">Heart Rate</text><text transform="translate(352.7 131) rotate(-90)" text-anchor="middle" textLength="43" lengthAdjust="spacingAndGlyphs">Heart Rate</text></g><g font-size="10" font-weight="bold" fill="#3a3a3a"><text x="161.1" y="286.6" textLength="14.6" lengthAdjust="spacingAndGlyphs">(a)</text><text x="509.9" y="286.6" textLength="15.4" lengthAdjust="spacingAndGlyphs">(b)</text></g></svg></body></html>
